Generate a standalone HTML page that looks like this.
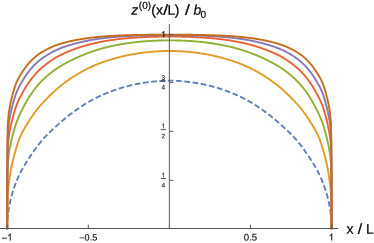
<!DOCTYPE html>
<html><head><meta charset="utf-8"><title>plot</title>
<style>
html,body{margin:0;padding:0;background:#fff;}
body{width:374px;height:243px;overflow:hidden;}
svg{display:block;will-change:transform;}
text{font-family:"Liberation Sans",sans-serif;fill:#000;stroke:#000;stroke-width:0.2px;}
.t{font-size:9.6px;stroke-width:0.1px;}
.f{font-size:6.5px;stroke-width:0.08px;}
.l{font-size:14px;}
.s{font-size:10px;}
</style></head><body>
<svg width="374" height="243" viewBox="0 0 374 243">
<rect width="374" height="243" fill="#fff"/>
<g>
<path d="M7.20 228.30 L7.20 227.91 L7.20 227.54 L7.21 227.15 L7.21 226.78 L7.22 226.37 L7.22 226.00 L7.23 225.62 L7.24 225.21 L7.25 224.79 L7.26 224.44 L7.27 224.08 L7.29 223.71 L7.30 223.33 L7.32 222.93 L7.34 222.53 L7.36 222.12 L7.38 221.70 L7.40 221.27 L7.43 220.83 L7.45 220.49 L7.47 220.15 L7.50 219.81 L7.52 219.46 L7.55 219.11 L7.57 218.75 L7.60 218.38 L7.63 218.02 L7.67 217.64 L7.70 217.27 L7.74 216.89 L7.77 216.50 L7.81 216.11 L7.85 215.72 L7.89 215.32 L7.94 214.92 L7.98 214.52 L8.03 214.11 L8.08 213.70 L8.13 213.28 L8.18 212.86 L8.24 212.44 L8.29 212.01 L8.35 211.58 L8.41 211.14 L8.48 210.70 L8.54 210.26 L8.61 209.81 L8.68 209.36 L8.75 208.91 L8.80 208.61 L8.85 208.30 L8.90 207.99 L8.95 207.69 L9.01 207.38 L9.06 207.06 L9.12 206.75 L9.17 206.44 L9.23 206.12 L9.29 205.80 L9.35 205.48 L9.41 205.16 L9.47 204.84 L9.54 204.52 L9.60 204.19 L9.67 203.87 L9.73 203.54 L9.80 203.21 L9.87 202.88 L9.94 202.55 L10.01 202.21 L10.09 201.88 L10.16 201.54 L10.24 201.20 L10.31 200.86 L10.39 200.52 L10.47 200.18 L10.55 199.84 L10.63 199.49 L10.72 199.15 L10.80 198.80 L10.89 198.45 L10.98 198.10 L11.07 197.75 L11.16 197.40 L11.25 197.04 L11.34 196.69 L11.44 196.33 L11.53 195.98 L11.63 195.62 L11.73 195.26 L11.83 194.90 L11.93 194.54 L12.03 194.17 L12.14 193.81 L12.24 193.45 L12.35 193.08 L12.46 192.71 L12.57 192.34 L12.68 191.97 L12.80 191.60 L12.91 191.23 L13.03 190.86 L13.15 190.49 L13.27 190.11 L13.39 189.74 L13.51 189.36 L13.64 188.98 L13.76 188.60 L13.89 188.22 L14.02 187.84 L14.15 187.46 L14.29 187.08 L14.42 186.69 L14.56 186.31 L14.70 185.93 L14.84 185.54 L14.98 185.15 L15.12 184.76 L15.27 184.38 L15.42 183.99 L15.56 183.60 L15.72 183.20 L15.87 182.81 L16.02 182.42 L16.18 182.03 L16.34 181.63 L16.50 181.24 L16.66 180.84 L16.82 180.45 L16.99 180.05 L17.15 179.65 L17.32 179.25 L17.49 178.85 L17.67 178.45 L17.84 178.05 L18.02 177.65 L18.20 177.25 L18.38 176.85 L18.56 176.45 L18.75 176.05 L18.93 175.64 L19.12 175.24 L19.31 174.83 L19.51 174.43 L19.70 174.02 L19.90 173.62 L20.10 173.21 L20.30 172.81 L20.50 172.41 L20.71 172.00 L20.91 171.60 L21.12 171.20 L21.33 170.79 L21.55 170.39 L21.76 169.99 L21.98 169.59 L22.20 169.19 L22.42 168.79 L22.65 168.39 L22.87 167.99 L23.10 167.59 L23.33 167.18 L23.57 166.78 L23.80 166.38 L24.04 165.98 L24.28 165.58 L24.52 165.18 L24.77 164.77 L25.01 164.37 L25.26 163.96 L25.51 163.56 L25.77 163.15 L26.02 162.74 L26.28 162.34 L26.54 161.93 L26.81 161.51 L27.07 161.10 L27.34 160.69 L27.61 160.27 L27.88 159.86 L28.16 159.44 L28.44 159.02 L28.58 158.80 L28.72 158.59 L28.86 158.38 L29.00 158.17 L29.14 157.95 L29.28 157.74 L29.43 157.53 L29.57 157.31 L29.72 157.09 L29.86 156.88 L30.01 156.66 L30.15 156.44 L30.30 156.22 L30.45 156.01 L30.60 155.79 L30.75 155.56 L30.90 155.34 L31.05 155.12 L31.20 154.90 L31.35 154.67 L31.50 154.45 L31.65 154.22 L31.81 154.00 L31.96 153.77 L32.12 153.54 L32.27 153.31 L32.43 153.09 L32.58 152.86 L32.74 152.63 L32.90 152.40 L33.06 152.17 L33.22 151.94 L33.38 151.71 L33.54 151.47 L33.70 151.24 L33.86 151.01 L34.02 150.78 L34.19 150.55 L34.35 150.32 L34.51 150.08 L34.68 149.85 L34.85 149.62 L35.01 149.38 L35.18 149.15 L35.35 148.92 L35.52 148.68 L35.68 148.45 L35.85 148.22 L36.03 147.98 L36.20 147.75 L36.37 147.52 L36.54 147.28 L36.71 147.05 L36.89 146.81 L37.06 146.58 L37.24 146.35 L37.41 146.11 L37.59 145.88 L37.77 145.64 L37.95 145.41 L38.13 145.18 L38.30 144.94 L38.48 144.71 L38.67 144.48 L38.85 144.24 L39.03 144.01 L39.21 143.78 L39.40 143.54 L39.58 143.31 L39.77 143.08 L39.95 142.85 L40.14 142.62 L40.32 142.38 L40.51 142.15 L40.70 141.92 L40.89 141.69 L41.08 141.46 L41.27 141.23 L41.46 141.00 L41.65 140.77 L41.85 140.54 L42.04 140.31 L42.24 140.09 L42.43 139.86 L42.63 139.63 L42.82 139.40 L43.02 139.18 L43.22 138.95 L43.42 138.73 L43.62 138.50 L43.82 138.28 L44.02 138.06 L44.22 137.84 L44.42 137.61 L44.62 137.39 L44.83 137.17 L45.03 136.95 L45.24 136.73 L45.44 136.51 L45.65 136.30 L45.86 136.08 L46.07 135.86 L46.27 135.64 L46.48 135.42 L46.69 135.21 L46.91 134.99 L47.12 134.78 L47.33 134.56 L47.54 134.34 L47.76 134.13 L47.97 133.91 L48.19 133.70 L48.40 133.49 L48.62 133.27 L48.84 133.06 L49.06 132.84 L49.28 132.63 L49.50 132.42 L49.72 132.20 L49.94 131.99 L50.16 131.78 L50.39 131.56 L50.61 131.35 L50.84 131.14 L51.06 130.93 L51.29 130.71 L51.52 130.50 L51.74 130.29 L51.97 130.07 L52.20 129.86 L52.43 129.65 L52.66 129.43 L52.90 129.22 L53.13 129.01 L53.36 128.79 L53.60 128.58 L53.83 128.36 L54.07 128.15 L54.30 127.93 L54.54 127.72 L54.78 127.50 L55.02 127.29 L55.26 127.07 L55.50 126.85 L55.74 126.64 L55.98 126.42 L56.23 126.20 L56.47 125.98 L56.72 125.77 L56.96 125.55 L57.21 125.33 L57.45 125.11 L57.70 124.88 L57.95 124.66 L58.20 124.44 L58.45 124.22 L58.70 123.99 L58.95 123.77 L59.21 123.55 L59.46 123.32 L59.72 123.09 L59.97 122.87 L60.23 122.64 L60.48 122.41 L60.74 122.18 L61.00 121.96 L61.26 121.73 L61.52 121.50 L61.78 121.27 L62.04 121.05 L62.31 120.82 L62.57 120.59 L62.83 120.36 L63.10 120.14 L63.37 119.91 L63.63 119.68 L63.90 119.45 L64.17 119.23 L64.44 119.00 L64.71 118.78 L64.98 118.55 L65.25 118.32 L65.53 118.10 L65.80 117.87 L66.07 117.65 L66.35 117.42 L66.63 117.20 L66.90 116.97 L67.18 116.75 L67.46 116.52 L67.74 116.30 L68.02 116.07 L68.30 115.85 L68.59 115.63 L68.87 115.40 L69.15 115.18 L69.44 114.96 L69.72 114.74 L70.01 114.52 L70.30 114.29 L70.59 114.07 L70.88 113.85 L71.17 113.63 L71.46 113.41 L71.75 113.20 L72.04 112.98 L72.34 112.76 L72.63 112.54 L72.93 112.32 L73.22 112.11 L73.52 111.89 L73.82 111.67 L74.12 111.46 L74.42 111.24 L74.72 111.03 L75.02 110.82 L75.32 110.60 L75.63 110.39 L75.93 110.18 L76.24 109.97 L76.54 109.75 L76.85 109.54 L77.16 109.33 L77.47 109.11 L77.78 108.90 L78.09 108.68 L78.40 108.47 L78.71 108.25 L79.03 108.04 L79.34 107.82 L79.66 107.61 L79.97 107.39 L80.29 107.18 L80.61 106.96 L80.93 106.74 L81.25 106.53 L81.57 106.31 L81.89 106.10 L82.22 105.88 L82.54 105.67 L82.86 105.46 L83.19 105.24 L83.52 105.03 L83.84 104.82 L84.17 104.61 L84.50 104.40 L84.83 104.19 L85.16 103.98 L85.50 103.77 L85.83 103.56 L86.16 103.36 L86.50 103.15 L86.83 102.95 L87.17 102.75 L87.51 102.55 L87.85 102.35 L88.19 102.15 L88.53 101.95 L88.87 101.75 L89.21 101.56 L89.56 101.36 L89.90 101.17 L90.25 100.97 L90.59 100.78 L90.94 100.59 L91.29 100.40 L91.64 100.21 L91.99 100.02 L92.34 99.83 L92.69 99.64 L93.05 99.45 L93.40 99.26 L93.75 99.08 L94.11 98.89 L94.47 98.71 L94.83 98.52 L95.19 98.34 L95.55 98.16 L95.91 97.98 L96.27 97.79 L96.63 97.61 L97.00 97.43 L97.36 97.26 L97.73 97.08 L98.09 96.90 L98.46 96.72 L98.83 96.55 L99.20 96.37 L99.57 96.20 L99.94 96.03 L100.32 95.85 L100.69 95.68 L101.07 95.51 L101.44 95.34 L101.82 95.17 L102.20 95.00 L102.58 94.84 L102.96 94.67 L103.34 94.50 L103.72 94.34 L104.10 94.17 L104.49 94.01 L104.87 93.85 L105.26 93.68 L105.64 93.52 L106.03 93.36 L106.42 93.20 L106.81 93.04 L107.20 92.88 L107.59 92.73 L107.99 92.57 L108.38 92.41 L108.78 92.26 L109.17 92.10 L109.57 91.95 L109.97 91.80 L110.37 91.64 L110.77 91.49 L111.17 91.34 L111.57 91.19 L111.98 91.04 L112.38 90.89 L112.79 90.74 L113.19 90.60 L113.60 90.45 L114.01 90.31 L114.42 90.16 L114.83 90.02 L115.24 89.87 L115.65 89.73 L116.07 89.59 L116.48 89.45 L116.90 89.31 L117.32 89.17 L117.73 89.03 L118.15 88.89 L118.57 88.76 L119.00 88.62 L119.42 88.49 L119.84 88.35 L120.27 88.22 L120.69 88.09 L121.12 87.96 L121.55 87.83 L121.97 87.70 L122.40 87.57 L122.84 87.44 L123.27 87.32 L123.70 87.19 L124.13 87.07 L124.57 86.95 L125.01 86.82 L125.44 86.70 L125.88 86.58 L126.32 86.46 L126.76 86.35 L127.20 86.23 L127.65 86.11 L128.09 86.00 L128.54 85.89 L128.98 85.77 L129.43 85.66 L129.88 85.55 L130.33 85.44 L130.78 85.33 L131.23 85.23 L131.68 85.12 L132.14 85.02 L132.59 84.91 L133.05 84.81 L133.50 84.71 L133.96 84.61 L134.42 84.51 L134.88 84.42 L135.34 84.32 L135.81 84.23 L136.27 84.13 L136.73 84.04 L137.20 83.95 L137.67 83.86 L138.13 83.77 L138.60 83.69 L139.07 83.60 L139.55 83.51 L140.02 83.43 L140.49 83.35 L140.97 83.26 L141.44 83.18 L141.92 83.10 L142.40 83.02 L142.88 82.95 L143.36 82.87 L143.84 82.79 L144.32 82.72 L144.81 82.65 L145.29 82.57 L145.78 82.50 L146.27 82.43 L146.75 82.36 L147.24 82.30 L147.74 82.23 L148.23 82.16 L148.72 82.10 L149.21 82.04 L149.71 81.97 L150.21 81.91 L150.70 81.85 L151.20 81.80 L151.70 81.74 L152.20 81.68 L152.71 81.63 L153.21 81.58 L153.71 81.52 L154.22 81.47 L154.73 81.42 L155.24 81.38 L155.74 81.33 L156.26 81.28 L156.77 81.24 L157.28 81.19 L157.79 81.15 L158.31 81.11 L158.83 81.07 L159.34 81.04 L159.86 81.00 L160.38 80.96 L160.90 80.93 L161.42 80.90 L161.95 80.87 L162.47 80.84 L163.00 80.81 L163.53 80.78 L164.05 80.76 L164.58 80.73 L165.11 80.71 L165.64 80.69 L166.18 80.67 L166.71 80.65 L167.25 80.63 L167.78 80.62 L168.32 80.60 L168.86 80.59 L169.40 80.58 L169.94 80.59 L170.48 80.60 L171.02 80.62 L171.55 80.63 L172.09 80.65 L172.62 80.67 L173.16 80.69 L173.69 80.71 L174.22 80.73 L174.75 80.76 L175.27 80.78 L175.80 80.81 L176.33 80.84 L176.85 80.87 L177.38 80.90 L177.90 80.93 L178.42 80.96 L178.94 81.00 L179.46 81.04 L179.97 81.07 L180.49 81.11 L181.01 81.15 L181.52 81.19 L182.03 81.24 L182.54 81.28 L183.06 81.33 L183.56 81.38 L184.07 81.42 L184.58 81.47 L185.09 81.52 L185.59 81.58 L186.09 81.63 L186.60 81.68 L187.10 81.74 L187.60 81.80 L188.10 81.85 L188.59 81.91 L189.09 81.97 L189.59 82.04 L190.08 82.10 L190.57 82.16 L191.06 82.23 L191.56 82.30 L192.05 82.36 L192.53 82.43 L193.02 82.50 L193.51 82.57 L193.99 82.65 L194.48 82.72 L194.96 82.79 L195.44 82.87 L195.92 82.95 L196.40 83.02 L196.88 83.10 L197.36 83.18 L197.83 83.26 L198.31 83.35 L198.78 83.43 L199.25 83.51 L199.73 83.60 L200.20 83.69 L200.67 83.77 L201.13 83.86 L201.60 83.95 L202.07 84.04 L202.53 84.13 L202.99 84.23 L203.46 84.32 L203.92 84.42 L204.38 84.51 L204.84 84.61 L205.30 84.71 L205.75 84.81 L206.21 84.91 L206.66 85.02 L207.12 85.12 L207.57 85.23 L208.02 85.33 L208.47 85.44 L208.92 85.55 L209.37 85.66 L209.82 85.77 L210.26 85.89 L210.71 86.00 L211.15 86.11 L211.60 86.23 L212.04 86.35 L212.48 86.46 L212.92 86.58 L213.36 86.70 L213.79 86.82 L214.23 86.95 L214.67 87.07 L215.10 87.19 L215.53 87.32 L215.96 87.44 L216.40 87.57 L216.83 87.70 L217.25 87.83 L217.68 87.96 L218.11 88.09 L218.53 88.22 L218.96 88.35 L219.38 88.49 L219.80 88.62 L220.23 88.76 L220.65 88.89 L221.07 89.03 L221.48 89.17 L221.90 89.31 L222.32 89.45 L222.73 89.59 L223.15 89.73 L223.56 89.87 L223.97 90.02 L224.38 90.16 L224.79 90.31 L225.20 90.45 L225.61 90.60 L226.01 90.74 L226.42 90.89 L226.82 91.04 L227.23 91.19 L227.63 91.34 L228.03 91.49 L228.43 91.64 L228.83 91.80 L229.23 91.95 L229.63 92.10 L230.02 92.26 L230.42 92.41 L230.81 92.57 L231.21 92.73 L231.60 92.88 L231.99 93.04 L232.38 93.20 L232.77 93.36 L233.16 93.52 L233.54 93.68 L233.93 93.85 L234.31 94.01 L234.70 94.17 L235.08 94.34 L235.46 94.50 L235.84 94.67 L236.22 94.84 L236.60 95.00 L236.98 95.17 L237.36 95.34 L237.73 95.51 L238.11 95.68 L238.48 95.85 L238.86 96.03 L239.23 96.20 L239.60 96.37 L239.97 96.55 L240.34 96.72 L240.71 96.90 L241.07 97.08 L241.44 97.26 L241.80 97.43 L242.17 97.61 L242.53 97.79 L242.89 97.98 L243.25 98.16 L243.61 98.34 L243.97 98.52 L244.33 98.71 L244.69 98.89 L245.05 99.08 L245.40 99.26 L245.75 99.45 L246.11 99.64 L246.46 99.83 L246.81 100.02 L247.16 100.21 L247.51 100.40 L247.86 100.59 L248.21 100.78 L248.55 100.97 L248.90 101.17 L249.24 101.36 L249.59 101.56 L249.93 101.75 L250.27 101.95 L250.61 102.15 L250.95 102.35 L251.29 102.55 L251.63 102.75 L251.97 102.95 L252.30 103.15 L252.64 103.36 L252.97 103.56 L253.30 103.77 L253.64 103.98 L253.97 104.19 L254.30 104.40 L254.63 104.61 L254.96 104.82 L255.28 105.03 L255.61 105.24 L255.94 105.46 L256.26 105.67 L256.58 105.88 L256.91 106.10 L257.23 106.31 L257.55 106.53 L257.87 106.74 L258.19 106.96 L258.51 107.18 L258.83 107.39 L259.14 107.61 L259.46 107.82 L259.77 108.04 L260.09 108.25 L260.40 108.47 L260.71 108.68 L261.02 108.90 L261.33 109.11 L261.64 109.33 L261.95 109.54 L262.26 109.75 L262.56 109.97 L262.87 110.18 L263.17 110.39 L263.48 110.60 L263.78 110.82 L264.08 111.03 L264.38 111.24 L264.68 111.46 L264.98 111.67 L265.28 111.89 L265.58 112.11 L265.87 112.32 L266.17 112.54 L266.46 112.76 L266.76 112.98 L267.05 113.20 L267.34 113.41 L267.63 113.63 L267.92 113.85 L268.21 114.07 L268.50 114.29 L268.79 114.52 L269.08 114.74 L269.36 114.96 L269.65 115.18 L269.93 115.40 L270.21 115.63 L270.50 115.85 L270.78 116.07 L271.06 116.30 L271.34 116.52 L271.62 116.75 L271.90 116.97 L272.17 117.20 L272.45 117.42 L272.73 117.65 L273.00 117.87 L273.27 118.10 L273.55 118.32 L273.82 118.55 L274.09 118.78 L274.36 119.00 L274.63 119.23 L274.90 119.45 L275.17 119.68 L275.43 119.91 L275.70 120.14 L275.97 120.36 L276.23 120.59 L276.49 120.82 L276.76 121.05 L277.02 121.27 L277.28 121.50 L277.54 121.73 L277.80 121.96 L278.06 122.18 L278.32 122.41 L278.57 122.64 L278.83 122.87 L279.08 123.09 L279.34 123.32 L279.59 123.55 L279.85 123.77 L280.10 123.99 L280.35 124.22 L280.60 124.44 L280.85 124.66 L281.10 124.88 L281.35 125.11 L281.59 125.33 L281.84 125.55 L282.08 125.77 L282.33 125.98 L282.57 126.20 L282.82 126.42 L283.06 126.64 L283.30 126.85 L283.54 127.07 L283.78 127.29 L284.02 127.50 L284.26 127.72 L284.50 127.93 L284.73 128.15 L284.97 128.36 L285.20 128.58 L285.44 128.79 L285.67 129.01 L285.90 129.22 L286.14 129.43 L286.37 129.65 L286.60 129.86 L286.83 130.07 L287.06 130.29 L287.28 130.50 L287.51 130.71 L287.74 130.93 L287.96 131.14 L288.19 131.35 L288.41 131.56 L288.64 131.78 L288.86 131.99 L289.08 132.20 L289.30 132.42 L289.52 132.63 L289.74 132.84 L289.96 133.06 L290.18 133.27 L290.40 133.49 L290.61 133.70 L290.83 133.91 L291.04 134.13 L291.26 134.34 L291.47 134.56 L291.68 134.78 L291.89 134.99 L292.11 135.21 L292.32 135.42 L292.53 135.64 L292.73 135.86 L292.94 136.08 L293.15 136.30 L293.36 136.51 L293.56 136.73 L293.77 136.95 L293.97 137.17 L294.18 137.39 L294.38 137.61 L294.58 137.84 L294.78 138.06 L294.98 138.28 L295.18 138.50 L295.38 138.73 L295.58 138.95 L295.78 139.18 L295.98 139.40 L296.17 139.63 L296.37 139.86 L296.56 140.09 L296.76 140.31 L296.95 140.54 L297.15 140.77 L297.34 141.00 L297.53 141.23 L297.72 141.46 L297.91 141.69 L298.10 141.92 L298.29 142.15 L298.48 142.38 L298.66 142.62 L298.85 142.85 L299.03 143.08 L299.22 143.31 L299.40 143.54 L299.59 143.78 L299.77 144.01 L299.95 144.24 L300.13 144.48 L300.32 144.71 L300.50 144.94 L300.67 145.18 L300.85 145.41 L301.03 145.64 L301.21 145.88 L301.39 146.11 L301.56 146.35 L301.74 146.58 L301.91 146.81 L302.09 147.05 L302.26 147.28 L302.43 147.52 L302.60 147.75 L302.77 147.98 L302.95 148.22 L303.12 148.45 L303.28 148.68 L303.45 148.92 L303.62 149.15 L303.79 149.38 L303.95 149.62 L304.12 149.85 L304.29 150.08 L304.45 150.32 L304.61 150.55 L304.78 150.78 L304.94 151.01 L305.10 151.24 L305.26 151.47 L305.42 151.71 L305.58 151.94 L305.74 152.17 L305.90 152.40 L306.06 152.63 L306.22 152.86 L306.37 153.09 L306.53 153.31 L306.68 153.54 L306.84 153.77 L306.99 154.00 L307.15 154.22 L307.30 154.45 L307.45 154.67 L307.60 154.90 L307.75 155.12 L307.90 155.34 L308.05 155.56 L308.20 155.79 L308.35 156.01 L308.50 156.22 L308.65 156.44 L308.79 156.66 L308.94 156.88 L309.08 157.09 L309.23 157.31 L309.37 157.53 L309.52 157.74 L309.66 157.95 L309.80 158.17 L309.94 158.38 L310.08 158.59 L310.22 158.80 L310.36 159.02 L310.64 159.44 L310.92 159.86 L311.19 160.27 L311.46 160.69 L311.73 161.10 L311.99 161.51 L312.26 161.93 L312.52 162.34 L312.78 162.74 L313.03 163.15 L313.29 163.56 L313.54 163.96 L313.79 164.37 L314.03 164.77 L314.28 165.18 L314.52 165.58 L314.76 165.98 L315.00 166.38 L315.23 166.78 L315.47 167.18 L315.70 167.59 L315.93 167.99 L316.15 168.39 L316.38 168.79 L316.60 169.19 L316.82 169.59 L317.04 169.99 L317.25 170.39 L317.47 170.79 L317.68 171.20 L317.89 171.60 L318.09 172.00 L318.30 172.41 L318.50 172.81 L318.70 173.21 L318.90 173.62 L319.10 174.02 L319.29 174.43 L319.49 174.83 L319.68 175.24 L319.87 175.64 L320.05 176.05 L320.24 176.45 L320.42 176.85 L320.60 177.25 L320.78 177.65 L320.96 178.05 L321.13 178.45 L321.31 178.85 L321.48 179.25 L321.65 179.65 L321.81 180.05 L321.98 180.45 L322.14 180.84 L322.30 181.24 L322.46 181.63 L322.62 182.03 L322.78 182.42 L322.93 182.81 L323.08 183.20 L323.24 183.60 L323.38 183.99 L323.53 184.38 L323.68 184.76 L323.82 185.15 L323.96 185.54 L324.10 185.93 L324.24 186.31 L324.38 186.69 L324.51 187.08 L324.65 187.46 L324.78 187.84 L324.91 188.22 L325.04 188.60 L325.16 188.98 L325.29 189.36 L325.41 189.74 L325.53 190.11 L325.65 190.49 L325.77 190.86 L325.89 191.23 L326.00 191.60 L326.12 191.97 L326.23 192.34 L326.34 192.71 L326.45 193.08 L326.56 193.45 L326.66 193.81 L326.77 194.17 L326.87 194.54 L326.97 194.90 L327.07 195.26 L327.17 195.62 L327.27 195.98 L327.36 196.33 L327.46 196.69 L327.55 197.04 L327.64 197.40 L327.73 197.75 L327.82 198.10 L327.91 198.45 L328.00 198.80 L328.08 199.15 L328.17 199.49 L328.25 199.84 L328.33 200.18 L328.41 200.52 L328.49 200.86 L328.56 201.20 L328.64 201.54 L328.71 201.88 L328.79 202.21 L328.86 202.55 L328.93 202.88 L329.00 203.21 L329.07 203.54 L329.13 203.87 L329.20 204.19 L329.26 204.52 L329.33 204.84 L329.39 205.16 L329.45 205.48 L329.51 205.80 L329.57 206.12 L329.63 206.44 L329.68 206.75 L329.74 207.06 L329.79 207.38 L329.85 207.69 L329.90 207.99 L329.95 208.30 L330.00 208.61 L330.05 208.91 L330.10 209.21 L330.17 209.66 L330.24 210.11 L330.30 210.56 L330.37 211.00 L330.43 211.43 L330.49 211.86 L330.55 212.29 L330.60 212.72 L330.65 213.14 L330.71 213.56 L330.76 213.97 L330.80 214.38 L330.85 214.79 L330.89 215.19 L330.94 215.59 L330.98 215.98 L331.02 216.37 L331.05 216.76 L331.09 217.14 L331.12 217.52 L331.15 217.89 L331.19 218.26 L331.22 218.63 L331.24 218.99 L331.27 219.34 L331.30 219.69 L331.32 220.04 L331.34 220.38 L331.36 220.72 L331.38 221.05 L331.41 221.48 L331.43 221.91 L331.45 222.33 L331.47 222.73 L331.49 223.13 L331.51 223.52 L331.52 223.89 L331.53 224.26 L331.54 224.62 L331.55 224.96 L331.56 225.38 L331.57 225.77 L331.58 226.15 L331.59 226.51 L331.59 226.90 L331.60 227.27 L331.60 227.64 L331.60 227.99 L331.60 228.30" fill="none" stroke="#5E81B5" stroke-width="1.9" stroke-linejoin="round" stroke-dasharray="5.7 2.609" stroke-dashoffset="0.879"/>
<path d="M7.20 228.30 L7.20 227.88 L7.20 227.47 L7.20 227.11 L7.20 226.70 L7.20 226.26 L7.20 225.79 L7.20 225.28 L7.20 224.92 L7.21 224.55 L7.21 224.17 L7.21 223.78 L7.21 223.37 L7.21 222.95 L7.21 222.52 L7.22 222.08 L7.22 221.63 L7.22 221.16 L7.22 220.69 L7.23 220.20 L7.23 219.70 L7.24 219.19 L7.24 218.68 L7.24 218.15 L7.25 217.61 L7.25 217.06 L7.26 216.50 L7.26 215.93 L7.27 215.35 L7.28 214.77 L7.28 214.17 L7.29 213.56 L7.30 212.95 L7.31 212.33 L7.31 211.69 L7.32 211.06 L7.33 210.41 L7.34 209.76 L7.35 209.10 L7.36 208.44 L7.37 207.77 L7.38 207.10 L7.40 206.43 L7.41 205.76 L7.42 205.08 L7.44 204.41 L7.45 203.74 L7.46 203.08 L7.48 202.42 L7.50 201.77 L7.51 201.13 L7.53 200.50 L7.55 199.89 L7.57 199.30 L7.58 198.74 L7.60 198.19 L7.62 197.68 L7.65 197.21 L7.67 196.77 L7.69 196.39 L7.71 196.02 L7.74 195.64 L7.76 195.27 L7.78 194.89 L7.81 194.50 L7.84 194.12 L7.86 193.72 L7.89 193.33 L7.92 192.94 L7.95 192.54 L7.98 192.14 L8.01 191.73 L8.04 191.33 L8.08 190.92 L8.11 190.51 L8.15 190.10 L8.18 189.69 L8.22 189.28 L8.25 188.86 L8.29 188.45 L8.33 188.03 L8.37 187.62 L8.41 187.20 L8.45 186.78 L8.50 186.37 L8.54 185.95 L8.59 185.53 L8.63 185.11 L8.68 184.69 L8.73 184.28 L8.77 183.86 L8.82 183.44 L8.88 183.02 L8.93 182.60 L8.98 182.18 L9.03 181.77 L9.09 181.35 L9.15 180.93 L9.20 180.51 L9.26 180.09 L9.32 179.67 L9.38 179.25 L9.44 178.82 L9.51 178.40 L9.57 177.97 L9.63 177.55 L9.70 177.12 L9.77 176.69 L9.84 176.25 L9.91 175.82 L9.98 175.38 L10.05 174.93 L10.12 174.48 L10.20 174.03 L10.28 173.57 L10.35 173.11 L10.43 172.65 L10.51 172.19 L10.59 171.72 L10.68 171.25 L10.76 170.78 L10.85 170.31 L10.93 169.84 L11.02 169.37 L11.11 168.89 L11.20 168.41 L11.29 167.93 L11.39 167.45 L11.48 166.97 L11.58 166.49 L11.68 166.00 L11.78 165.52 L11.88 165.03 L11.98 164.54 L12.08 164.05 L12.19 163.56 L12.30 163.07 L12.41 162.58 L12.51 162.08 L12.63 161.59 L12.74 161.09 L12.85 160.60 L12.97 160.10 L13.09 159.60 L13.21 159.10 L13.33 158.60 L13.45 158.10 L13.58 157.60 L13.70 157.10 L13.83 156.60 L13.96 156.09 L14.09 155.59 L14.22 155.08 L14.35 154.58 L14.49 154.07 L14.63 153.57 L14.77 153.06 L14.91 152.55 L15.05 152.04 L15.20 151.53 L15.34 151.02 L15.49 150.51 L15.64 150.00 L15.79 149.49 L15.95 148.98 L16.10 148.47 L16.26 147.95 L16.42 147.44 L16.58 146.93 L16.74 146.41 L16.90 145.90 L17.07 145.38 L17.24 144.86 L17.41 144.34 L17.58 143.81 L17.75 143.29 L17.93 142.76 L18.02 142.50 L18.11 142.24 L18.29 141.72 L18.47 141.21 L18.65 140.69 L18.84 140.19 L19.03 139.69 L19.22 139.20 L19.41 138.71 L19.60 138.24 L19.80 137.76 L20.00 137.29 L20.20 136.82 L20.40 136.36 L20.60 135.90 L20.81 135.44 L21.02 134.99 L21.23 134.54 L21.44 134.09 L21.65 133.65 L21.87 133.20 L22.09 132.76 L22.31 132.33 L22.53 131.89 L22.76 131.46 L22.99 131.03 L23.22 130.60 L23.45 130.18 L23.68 129.75 L23.92 129.33 L24.16 128.90 L24.40 128.48 L24.64 128.06 L24.89 127.64 L25.14 127.22 L25.39 126.80 L25.64 126.38 L25.90 125.97 L26.15 125.55 L26.41 125.13 L26.67 124.70 L26.94 124.28 L27.21 123.86 L27.48 123.43 L27.75 123.01 L27.88 122.79 L28.02 122.58 L28.16 122.36 L28.30 122.15 L28.44 121.93 L28.58 121.71 L28.72 121.49 L28.86 121.27 L29.00 121.05 L29.14 120.83 L29.28 120.61 L29.43 120.39 L29.57 120.17 L29.72 119.94 L29.86 119.72 L30.01 119.49 L30.15 119.26 L30.30 119.04 L30.45 118.81 L30.60 118.59 L30.75 118.36 L30.90 118.13 L31.05 117.91 L31.20 117.68 L31.35 117.45 L31.50 117.23 L31.65 117.00 L31.81 116.77 L31.96 116.54 L32.12 116.32 L32.27 116.09 L32.43 115.86 L32.58 115.63 L32.74 115.41 L32.90 115.18 L33.06 114.95 L33.22 114.73 L33.38 114.50 L33.54 114.27 L33.70 114.04 L33.86 113.82 L34.02 113.59 L34.19 113.36 L34.35 113.13 L34.51 112.91 L34.68 112.68 L34.85 112.45 L35.01 112.23 L35.18 112.00 L35.35 111.77 L35.52 111.55 L35.68 111.32 L35.85 111.10 L36.03 110.87 L36.20 110.64 L36.37 110.42 L36.54 110.19 L36.71 109.97 L36.89 109.74 L37.06 109.52 L37.24 109.30 L37.41 109.07 L37.59 108.85 L37.77 108.63 L37.95 108.40 L38.13 108.18 L38.30 107.96 L38.48 107.73 L38.67 107.51 L38.85 107.29 L39.03 107.07 L39.21 106.85 L39.40 106.63 L39.58 106.41 L39.77 106.19 L39.95 105.97 L40.14 105.75 L40.32 105.54 L40.51 105.32 L40.70 105.11 L40.89 104.89 L41.08 104.68 L41.27 104.46 L41.46 104.25 L41.65 104.04 L41.85 103.83 L42.04 103.61 L42.24 103.40 L42.43 103.19 L42.63 102.98 L42.82 102.77 L43.02 102.56 L43.22 102.35 L43.42 102.14 L43.62 101.92 L43.82 101.71 L44.02 101.50 L44.22 101.29 L44.42 101.08 L44.62 100.86 L44.83 100.65 L45.03 100.44 L45.24 100.22 L45.44 100.01 L45.65 99.79 L45.86 99.58 L46.07 99.36 L46.27 99.14 L46.48 98.92 L46.69 98.70 L46.91 98.49 L47.12 98.27 L47.33 98.05 L47.54 97.83 L47.76 97.61 L47.97 97.40 L48.19 97.18 L48.40 96.96 L48.62 96.74 L48.84 96.52 L49.06 96.31 L49.28 96.09 L49.50 95.87 L49.72 95.65 L49.94 95.44 L50.16 95.22 L50.39 95.00 L50.61 94.79 L50.84 94.57 L51.06 94.35 L51.29 94.13 L51.52 93.92 L51.74 93.70 L51.97 93.48 L52.20 93.27 L52.43 93.05 L52.66 92.83 L52.90 92.62 L53.13 92.40 L53.36 92.18 L53.60 91.97 L53.83 91.75 L54.07 91.54 L54.30 91.32 L54.54 91.10 L54.78 90.89 L55.02 90.67 L55.26 90.46 L55.50 90.24 L55.74 90.03 L55.98 89.81 L56.23 89.60 L56.47 89.38 L56.72 89.17 L56.96 88.95 L57.21 88.74 L57.45 88.53 L57.70 88.31 L57.95 88.10 L58.20 87.89 L58.45 87.68 L58.70 87.47 L58.95 87.26 L59.21 87.05 L59.46 86.84 L59.72 86.63 L59.97 86.42 L60.23 86.21 L60.48 86.00 L60.74 85.79 L61.00 85.59 L61.26 85.38 L61.52 85.17 L61.78 84.96 L62.04 84.76 L62.31 84.55 L62.57 84.35 L62.83 84.14 L63.10 83.94 L63.37 83.73 L63.63 83.53 L63.90 83.32 L64.17 83.12 L64.44 82.92 L64.71 82.71 L64.98 82.51 L65.25 82.31 L65.53 82.11 L65.80 81.90 L66.07 81.70 L66.35 81.50 L66.63 81.30 L66.90 81.10 L67.18 80.90 L67.46 80.70 L67.74 80.50 L68.02 80.30 L68.30 80.10 L68.59 79.90 L68.87 79.71 L69.15 79.51 L69.44 79.31 L69.72 79.11 L70.01 78.92 L70.30 78.72 L70.59 78.52 L70.88 78.33 L71.17 78.13 L71.46 77.93 L71.75 77.74 L72.04 77.54 L72.34 77.35 L72.63 77.15 L72.93 76.96 L73.22 76.77 L73.52 76.57 L73.82 76.38 L74.12 76.19 L74.42 76.00 L74.72 75.81 L75.02 75.62 L75.32 75.43 L75.63 75.24 L75.93 75.06 L76.24 74.87 L76.54 74.68 L76.85 74.50 L77.16 74.31 L77.47 74.13 L77.78 73.94 L78.09 73.76 L78.40 73.58 L78.71 73.39 L79.03 73.21 L79.34 73.03 L79.66 72.85 L79.97 72.67 L80.29 72.49 L80.61 72.31 L80.93 72.13 L81.25 71.95 L81.57 71.78 L81.89 71.60 L82.22 71.42 L82.54 71.25 L82.86 71.07 L83.19 70.90 L83.52 70.72 L83.84 70.55 L84.17 70.37 L84.50 70.20 L84.83 70.03 L85.16 69.86 L85.50 69.69 L85.83 69.51 L86.16 69.34 L86.50 69.18 L86.83 69.01 L87.17 68.84 L87.51 68.67 L87.85 68.50 L88.19 68.33 L88.53 68.17 L88.87 68.00 L89.21 67.84 L89.56 67.67 L89.90 67.51 L90.25 67.34 L90.59 67.18 L90.94 67.02 L91.29 66.86 L91.64 66.70 L91.99 66.54 L92.34 66.38 L92.69 66.22 L93.05 66.07 L93.40 65.91 L93.75 65.76 L94.11 65.60 L94.47 65.45 L94.83 65.29 L95.19 65.14 L95.55 64.99 L95.91 64.84 L96.27 64.69 L96.63 64.54 L97.00 64.39 L97.36 64.24 L97.73 64.10 L98.09 63.95 L98.46 63.80 L98.83 63.66 L99.20 63.51 L99.57 63.37 L99.94 63.23 L100.32 63.09 L100.69 62.95 L101.07 62.81 L101.44 62.67 L101.82 62.53 L102.20 62.39 L102.58 62.25 L102.96 62.12 L103.34 61.98 L103.72 61.85 L104.10 61.71 L104.49 61.58 L104.87 61.45 L105.26 61.32 L105.64 61.19 L106.03 61.06 L106.42 60.93 L106.81 60.80 L107.20 60.67 L107.59 60.54 L107.99 60.42 L108.38 60.29 L108.78 60.17 L109.17 60.04 L109.57 59.92 L109.97 59.80 L110.37 59.68 L110.77 59.56 L111.17 59.44 L111.57 59.32 L111.98 59.20 L112.38 59.08 L112.79 58.96 L113.19 58.84 L113.60 58.72 L114.01 58.60 L114.42 58.49 L114.83 58.37 L115.24 58.26 L115.65 58.14 L116.07 58.03 L116.48 57.92 L116.90 57.80 L117.32 57.69 L117.73 57.58 L118.15 57.47 L118.57 57.36 L119.00 57.25 L119.42 57.14 L119.84 57.03 L120.27 56.93 L120.69 56.82 L121.12 56.72 L121.55 56.61 L121.97 56.51 L122.40 56.40 L122.84 56.30 L123.27 56.20 L123.70 56.10 L124.13 56.00 L124.57 55.90 L125.01 55.80 L125.44 55.70 L125.88 55.61 L126.32 55.51 L126.76 55.42 L127.20 55.32 L127.65 55.23 L128.09 55.14 L128.54 55.05 L128.98 54.96 L129.43 54.87 L129.88 54.78 L130.33 54.69 L130.78 54.60 L131.23 54.52 L131.68 54.43 L132.14 54.35 L132.59 54.27 L133.05 54.18 L133.50 54.10 L133.96 54.02 L134.42 53.94 L134.88 53.87 L135.34 53.79 L135.81 53.71 L136.27 53.64 L136.73 53.57 L137.20 53.49 L137.67 53.42 L138.13 53.35 L138.60 53.28 L139.07 53.21 L139.55 53.15 L140.02 53.08 L140.49 53.01 L140.97 52.95 L141.44 52.88 L141.92 52.82 L142.40 52.76 L142.88 52.70 L143.36 52.64 L143.84 52.58 L144.32 52.52 L144.81 52.46 L145.29 52.41 L145.78 52.35 L146.27 52.30 L146.75 52.24 L147.24 52.19 L147.74 52.14 L148.23 52.09 L148.72 52.04 L149.21 51.99 L149.71 51.94 L150.21 51.90 L150.70 51.85 L151.20 51.81 L151.70 51.76 L152.20 51.72 L152.71 51.68 L153.21 51.64 L153.71 51.60 L154.22 51.56 L154.73 51.52 L155.24 51.49 L155.74 51.45 L156.26 51.42 L156.77 51.39 L157.28 51.35 L157.79 51.32 L158.31 51.29 L158.83 51.26 L159.34 51.23 L159.86 51.21 L160.38 51.18 L160.90 51.16 L161.42 51.13 L161.95 51.11 L162.47 51.09 L163.00 51.07 L163.53 51.05 L164.05 51.03 L164.58 51.01 L165.11 51.00 L165.64 50.98 L166.18 50.97 L166.71 50.96 L167.25 50.95 L167.78 50.94 L168.32 50.93 L168.86 50.92 L169.40 50.91 L169.94 50.92 L170.48 50.93 L171.02 50.94 L171.55 50.95 L172.09 50.96 L172.62 50.97 L173.16 50.98 L173.69 51.00 L174.22 51.01 L174.75 51.03 L175.27 51.05 L175.80 51.07 L176.33 51.09 L176.85 51.11 L177.38 51.13 L177.90 51.16 L178.42 51.18 L178.94 51.21 L179.46 51.23 L179.97 51.26 L180.49 51.29 L181.01 51.32 L181.52 51.35 L182.03 51.39 L182.54 51.42 L183.06 51.45 L183.56 51.49 L184.07 51.52 L184.58 51.56 L185.09 51.60 L185.59 51.64 L186.09 51.68 L186.60 51.72 L187.10 51.76 L187.60 51.81 L188.10 51.85 L188.59 51.90 L189.09 51.94 L189.59 51.99 L190.08 52.04 L190.57 52.09 L191.06 52.14 L191.56 52.19 L192.05 52.24 L192.53 52.30 L193.02 52.35 L193.51 52.41 L193.99 52.46 L194.48 52.52 L194.96 52.58 L195.44 52.64 L195.92 52.70 L196.40 52.76 L196.88 52.82 L197.36 52.88 L197.83 52.95 L198.31 53.01 L198.78 53.08 L199.25 53.15 L199.73 53.21 L200.20 53.28 L200.67 53.35 L201.13 53.42 L201.60 53.49 L202.07 53.57 L202.53 53.64 L202.99 53.71 L203.46 53.79 L203.92 53.87 L204.38 53.94 L204.84 54.02 L205.30 54.10 L205.75 54.18 L206.21 54.27 L206.66 54.35 L207.12 54.43 L207.57 54.52 L208.02 54.60 L208.47 54.69 L208.92 54.78 L209.37 54.87 L209.82 54.96 L210.26 55.05 L210.71 55.14 L211.15 55.23 L211.60 55.32 L212.04 55.42 L212.48 55.51 L212.92 55.61 L213.36 55.70 L213.79 55.80 L214.23 55.90 L214.67 56.00 L215.10 56.10 L215.53 56.20 L215.96 56.30 L216.40 56.40 L216.83 56.51 L217.25 56.61 L217.68 56.72 L218.11 56.82 L218.53 56.93 L218.96 57.03 L219.38 57.14 L219.80 57.25 L220.23 57.36 L220.65 57.47 L221.07 57.58 L221.48 57.69 L221.90 57.80 L222.32 57.92 L222.73 58.03 L223.15 58.14 L223.56 58.26 L223.97 58.37 L224.38 58.49 L224.79 58.60 L225.20 58.72 L225.61 58.84 L226.01 58.96 L226.42 59.08 L226.82 59.20 L227.23 59.32 L227.63 59.44 L228.03 59.56 L228.43 59.68 L228.83 59.80 L229.23 59.92 L229.63 60.04 L230.02 60.17 L230.42 60.29 L230.81 60.42 L231.21 60.54 L231.60 60.67 L231.99 60.80 L232.38 60.93 L232.77 61.06 L233.16 61.19 L233.54 61.32 L233.93 61.45 L234.31 61.58 L234.70 61.71 L235.08 61.85 L235.46 61.98 L235.84 62.12 L236.22 62.25 L236.60 62.39 L236.98 62.53 L237.36 62.67 L237.73 62.81 L238.11 62.95 L238.48 63.09 L238.86 63.23 L239.23 63.37 L239.60 63.51 L239.97 63.66 L240.34 63.80 L240.71 63.95 L241.07 64.10 L241.44 64.24 L241.80 64.39 L242.17 64.54 L242.53 64.69 L242.89 64.84 L243.25 64.99 L243.61 65.14 L243.97 65.29 L244.33 65.45 L244.69 65.60 L245.05 65.76 L245.40 65.91 L245.75 66.07 L246.11 66.22 L246.46 66.38 L246.81 66.54 L247.16 66.70 L247.51 66.86 L247.86 67.02 L248.21 67.18 L248.55 67.34 L248.90 67.51 L249.24 67.67 L249.59 67.84 L249.93 68.00 L250.27 68.17 L250.61 68.33 L250.95 68.50 L251.29 68.67 L251.63 68.84 L251.97 69.01 L252.30 69.18 L252.64 69.34 L252.97 69.51 L253.30 69.69 L253.64 69.86 L253.97 70.03 L254.30 70.20 L254.63 70.37 L254.96 70.55 L255.28 70.72 L255.61 70.90 L255.94 71.07 L256.26 71.25 L256.58 71.42 L256.91 71.60 L257.23 71.78 L257.55 71.95 L257.87 72.13 L258.19 72.31 L258.51 72.49 L258.83 72.67 L259.14 72.85 L259.46 73.03 L259.77 73.21 L260.09 73.39 L260.40 73.58 L260.71 73.76 L261.02 73.94 L261.33 74.13 L261.64 74.31 L261.95 74.50 L262.26 74.68 L262.56 74.87 L262.87 75.06 L263.17 75.24 L263.48 75.43 L263.78 75.62 L264.08 75.81 L264.38 76.00 L264.68 76.19 L264.98 76.38 L265.28 76.57 L265.58 76.77 L265.87 76.96 L266.17 77.15 L266.46 77.35 L266.76 77.54 L267.05 77.74 L267.34 77.93 L267.63 78.13 L267.92 78.33 L268.21 78.52 L268.50 78.72 L268.79 78.92 L269.08 79.11 L269.36 79.31 L269.65 79.51 L269.93 79.71 L270.21 79.90 L270.50 80.10 L270.78 80.30 L271.06 80.50 L271.34 80.70 L271.62 80.90 L271.90 81.10 L272.17 81.30 L272.45 81.50 L272.73 81.70 L273.00 81.90 L273.27 82.11 L273.55 82.31 L273.82 82.51 L274.09 82.71 L274.36 82.92 L274.63 83.12 L274.90 83.32 L275.17 83.53 L275.43 83.73 L275.70 83.94 L275.97 84.14 L276.23 84.35 L276.49 84.55 L276.76 84.76 L277.02 84.96 L277.28 85.17 L277.54 85.38 L277.80 85.59 L278.06 85.79 L278.32 86.00 L278.57 86.21 L278.83 86.42 L279.08 86.63 L279.34 86.84 L279.59 87.05 L279.85 87.26 L280.10 87.47 L280.35 87.68 L280.60 87.89 L280.85 88.10 L281.10 88.31 L281.35 88.53 L281.59 88.74 L281.84 88.95 L282.08 89.17 L282.33 89.38 L282.57 89.60 L282.82 89.81 L283.06 90.03 L283.30 90.24 L283.54 90.46 L283.78 90.67 L284.02 90.89 L284.26 91.10 L284.50 91.32 L284.73 91.54 L284.97 91.75 L285.20 91.97 L285.44 92.18 L285.67 92.40 L285.90 92.62 L286.14 92.83 L286.37 93.05 L286.60 93.27 L286.83 93.48 L287.06 93.70 L287.28 93.92 L287.51 94.13 L287.74 94.35 L287.96 94.57 L288.19 94.79 L288.41 95.00 L288.64 95.22 L288.86 95.44 L289.08 95.65 L289.30 95.87 L289.52 96.09 L289.74 96.31 L289.96 96.52 L290.18 96.74 L290.40 96.96 L290.61 97.18 L290.83 97.40 L291.04 97.61 L291.26 97.83 L291.47 98.05 L291.68 98.27 L291.89 98.49 L292.11 98.70 L292.32 98.92 L292.53 99.14 L292.73 99.36 L292.94 99.58 L293.15 99.79 L293.36 100.01 L293.56 100.22 L293.77 100.44 L293.97 100.65 L294.18 100.86 L294.38 101.08 L294.58 101.29 L294.78 101.50 L294.98 101.71 L295.18 101.92 L295.38 102.14 L295.58 102.35 L295.78 102.56 L295.98 102.77 L296.17 102.98 L296.37 103.19 L296.56 103.40 L296.76 103.61 L296.95 103.83 L297.15 104.04 L297.34 104.25 L297.53 104.46 L297.72 104.68 L297.91 104.89 L298.10 105.11 L298.29 105.32 L298.48 105.54 L298.66 105.75 L298.85 105.97 L299.03 106.19 L299.22 106.41 L299.40 106.63 L299.59 106.85 L299.77 107.07 L299.95 107.29 L300.13 107.51 L300.32 107.73 L300.50 107.96 L300.67 108.18 L300.85 108.40 L301.03 108.63 L301.21 108.85 L301.39 109.07 L301.56 109.30 L301.74 109.52 L301.91 109.74 L302.09 109.97 L302.26 110.19 L302.43 110.42 L302.60 110.64 L302.77 110.87 L302.95 111.10 L303.12 111.32 L303.28 111.55 L303.45 111.77 L303.62 112.00 L303.79 112.23 L303.95 112.45 L304.12 112.68 L304.29 112.91 L304.45 113.13 L304.61 113.36 L304.78 113.59 L304.94 113.82 L305.10 114.04 L305.26 114.27 L305.42 114.50 L305.58 114.73 L305.74 114.95 L305.90 115.18 L306.06 115.41 L306.22 115.63 L306.37 115.86 L306.53 116.09 L306.68 116.32 L306.84 116.54 L306.99 116.77 L307.15 117.00 L307.30 117.23 L307.45 117.45 L307.60 117.68 L307.75 117.91 L307.90 118.13 L308.05 118.36 L308.20 118.59 L308.35 118.81 L308.50 119.04 L308.65 119.26 L308.79 119.49 L308.94 119.72 L309.08 119.94 L309.23 120.17 L309.37 120.39 L309.52 120.61 L309.66 120.83 L309.80 121.05 L309.94 121.27 L310.08 121.49 L310.22 121.71 L310.36 121.93 L310.50 122.15 L310.64 122.36 L310.78 122.58 L310.92 122.79 L311.05 123.01 L311.32 123.43 L311.59 123.86 L311.86 124.28 L312.13 124.70 L312.39 125.13 L312.65 125.55 L312.90 125.97 L313.16 126.38 L313.41 126.80 L313.66 127.22 L313.91 127.64 L314.16 128.06 L314.40 128.48 L314.64 128.90 L314.88 129.33 L315.12 129.75 L315.35 130.18 L315.58 130.60 L315.81 131.03 L316.04 131.46 L316.27 131.89 L316.49 132.33 L316.71 132.76 L316.93 133.20 L317.15 133.65 L317.36 134.09 L317.57 134.54 L317.78 134.99 L317.99 135.44 L318.20 135.90 L318.40 136.36 L318.60 136.82 L318.80 137.29 L319.00 137.76 L319.20 138.24 L319.39 138.71 L319.58 139.20 L319.77 139.69 L319.96 140.19 L320.15 140.69 L320.33 141.21 L320.51 141.72 L320.69 142.24 L320.78 142.50 L320.87 142.76 L321.05 143.29 L321.22 143.81 L321.39 144.34 L321.56 144.86 L321.73 145.38 L321.90 145.90 L322.06 146.41 L322.22 146.93 L322.38 147.44 L322.54 147.95 L322.70 148.47 L322.85 148.98 L323.01 149.49 L323.16 150.00 L323.31 150.51 L323.46 151.02 L323.60 151.53 L323.75 152.04 L323.89 152.55 L324.03 153.06 L324.17 153.57 L324.31 154.07 L324.45 154.58 L324.58 155.08 L324.71 155.59 L324.84 156.09 L324.97 156.60 L325.10 157.10 L325.22 157.60 L325.35 158.10 L325.47 158.60 L325.59 159.10 L325.71 159.60 L325.83 160.10 L325.95 160.60 L326.06 161.09 L326.17 161.59 L326.29 162.08 L326.39 162.58 L326.50 163.07 L326.61 163.56 L326.72 164.05 L326.82 164.54 L326.92 165.03 L327.02 165.52 L327.12 166.00 L327.22 166.49 L327.32 166.97 L327.41 167.45 L327.51 167.93 L327.60 168.41 L327.69 168.89 L327.78 169.37 L327.87 169.84 L327.95 170.31 L328.04 170.78 L328.12 171.25 L328.21 171.72 L328.29 172.19 L328.37 172.65 L328.45 173.11 L328.52 173.57 L328.60 174.03 L328.68 174.48 L328.75 174.93 L328.82 175.38 L328.89 175.82 L328.96 176.25 L329.03 176.69 L329.10 177.12 L329.17 177.55 L329.23 177.97 L329.29 178.40 L329.36 178.82 L329.42 179.25 L329.48 179.67 L329.54 180.09 L329.60 180.51 L329.65 180.93 L329.71 181.35 L329.77 181.77 L329.82 182.18 L329.87 182.60 L329.92 183.02 L329.98 183.44 L330.03 183.86 L330.07 184.28 L330.12 184.69 L330.17 185.11 L330.21 185.53 L330.26 185.95 L330.30 186.37 L330.35 186.78 L330.39 187.20 L330.43 187.62 L330.47 188.03 L330.51 188.45 L330.55 188.86 L330.58 189.28 L330.62 189.69 L330.65 190.10 L330.69 190.51 L330.72 190.92 L330.76 191.33 L330.79 191.73 L330.82 192.14 L330.85 192.54 L330.88 192.94 L330.91 193.33 L330.94 193.72 L330.96 194.12 L330.99 194.50 L331.02 194.89 L331.04 195.27 L331.06 195.64 L331.09 196.02 L331.11 196.39 L331.13 196.77 L331.15 197.21 L331.18 197.68 L331.20 198.19 L331.22 198.74 L331.23 199.30 L331.25 199.89 L331.27 200.50 L331.29 201.13 L331.30 201.77 L331.32 202.42 L331.34 203.08 L331.35 203.74 L331.36 204.41 L331.38 205.08 L331.39 205.76 L331.40 206.43 L331.42 207.10 L331.43 207.77 L331.44 208.44 L331.45 209.10 L331.46 209.76 L331.47 210.41 L331.48 211.06 L331.49 211.69 L331.49 212.33 L331.50 212.95 L331.51 213.56 L331.52 214.17 L331.52 214.77 L331.53 215.35 L331.54 215.93 L331.54 216.50 L331.55 217.06 L331.55 217.61 L331.56 218.15 L331.56 218.68 L331.56 219.19 L331.57 219.70 L331.57 220.20 L331.58 220.69 L331.58 221.16 L331.58 221.63 L331.58 222.08 L331.59 222.52 L331.59 222.95 L331.59 223.37 L331.59 223.78 L331.59 224.17 L331.59 224.55 L331.60 224.92 L331.60 225.28 L331.60 225.79 L331.60 226.26 L331.60 226.70 L331.60 227.11 L331.60 227.47 L331.60 227.88 L331.60 228.24 L331.60 228.30" fill="none" stroke="#E19C24" stroke-width="1.9" stroke-linejoin="round" stroke-linecap="square"/>
<path d="M7.20 228.30 L7.20 227.89 L7.20 227.35 L7.20 226.92 L7.20 226.43 L7.20 225.90 L7.20 225.33 L7.20 224.72 L7.20 224.06 L7.20 223.38 L7.20 223.02 L7.20 222.66 L7.20 222.29 L7.20 221.91 L7.20 221.52 L7.20 221.13 L7.20 220.73 L7.21 220.32 L7.21 219.90 L7.21 219.48 L7.21 219.05 L7.21 218.62 L7.21 218.18 L7.21 217.73 L7.21 217.27 L7.21 216.81 L7.21 216.35 L7.21 215.88 L7.21 215.40 L7.22 214.91 L7.22 214.43 L7.22 213.93 L7.22 213.43 L7.22 212.93 L7.22 212.42 L7.22 211.90 L7.22 211.38 L7.23 210.85 L7.23 210.32 L7.23 209.79 L7.23 209.25 L7.23 208.71 L7.24 208.16 L7.24 207.61 L7.24 207.05 L7.24 206.49 L7.24 205.93 L7.25 205.36 L7.25 204.79 L7.25 204.21 L7.25 203.63 L7.26 203.05 L7.26 202.46 L7.26 201.87 L7.26 201.28 L7.27 200.69 L7.27 200.09 L7.27 199.49 L7.28 198.89 L7.28 198.28 L7.28 197.68 L7.29 197.07 L7.29 196.46 L7.29 195.84 L7.30 195.23 L7.30 194.61 L7.31 194.00 L7.31 193.38 L7.31 192.76 L7.32 192.14 L7.32 191.52 L7.33 190.90 L7.33 190.28 L7.34 189.66 L7.34 189.04 L7.35 188.42 L7.35 187.80 L7.36 187.18 L7.36 186.57 L7.37 185.95 L7.37 185.34 L7.38 184.73 L7.38 184.12 L7.39 183.52 L7.40 182.92 L7.40 182.32 L7.41 181.72 L7.42 181.13 L7.42 180.55 L7.43 179.97 L7.44 179.39 L7.44 178.82 L7.45 178.26 L7.46 177.70 L7.46 177.15 L7.47 176.61 L7.48 176.08 L7.49 175.56 L7.50 175.04 L7.50 174.54 L7.51 174.05 L7.52 173.56 L7.53 173.09 L7.54 172.64 L7.55 172.19 L7.56 171.77 L7.57 171.35 L7.57 170.96 L7.58 170.58 L7.59 170.21 L7.60 169.87 L7.62 169.22 L7.65 168.57 L7.67 167.93 L7.69 167.30 L7.71 166.68 L7.74 166.07 L7.76 165.48 L7.78 164.91 L7.81 164.35 L7.84 163.81 L7.86 163.30 L7.89 162.81 L7.92 162.35 L7.95 161.91 L7.98 161.51 L8.01 161.14 L8.04 160.79 L8.08 160.43 L8.11 160.07 L8.15 159.72 L8.18 159.36 L8.22 159.00 L8.25 158.64 L8.29 158.28 L8.33 157.92 L8.37 157.55 L8.41 157.19 L8.45 156.83 L8.50 156.47 L8.54 156.11 L8.59 155.75 L8.63 155.40 L8.68 155.04 L8.73 154.68 L8.77 154.33 L8.82 153.97 L8.88 153.62 L8.93 153.26 L8.98 152.91 L9.03 152.55 L9.09 152.20 L9.15 151.85 L9.20 151.49 L9.26 151.14 L9.32 150.78 L9.38 150.43 L9.44 150.07 L9.51 149.71 L9.57 149.34 L9.63 148.97 L9.70 148.60 L9.77 148.23 L9.84 147.86 L9.91 147.49 L9.98 147.11 L10.05 146.73 L10.12 146.35 L10.20 145.97 L10.28 145.59 L10.35 145.21 L10.43 144.82 L10.51 144.43 L10.59 144.05 L10.68 143.66 L10.76 143.27 L10.85 142.87 L10.93 142.48 L11.02 142.08 L11.11 141.68 L11.20 141.28 L11.29 140.88 L11.39 140.48 L11.48 140.07 L11.58 139.67 L11.68 139.26 L11.78 138.84 L11.88 138.43 L11.98 138.01 L12.08 137.59 L12.19 137.17 L12.30 136.74 L12.41 136.31 L12.51 135.87 L12.63 135.43 L12.74 134.99 L12.85 134.55 L12.97 134.10 L13.09 133.65 L13.21 133.20 L13.33 132.75 L13.45 132.29 L13.58 131.84 L13.70 131.38 L13.83 130.92 L13.96 130.45 L14.09 129.99 L14.22 129.53 L14.35 129.06 L14.49 128.60 L14.63 128.13 L14.77 127.66 L14.91 127.20 L15.05 126.73 L15.20 126.27 L15.34 125.81 L15.49 125.34 L15.64 124.88 L15.79 124.42 L15.95 123.97 L16.10 123.51 L16.26 123.06 L16.42 122.61 L16.58 122.16 L16.74 121.72 L16.90 121.29 L17.07 120.85 L17.24 120.42 L17.41 119.98 L17.58 119.55 L17.75 119.12 L17.93 118.69 L18.11 118.26 L18.29 117.83 L18.47 117.40 L18.65 116.98 L18.84 116.55 L19.03 116.12 L19.22 115.70 L19.41 115.27 L19.60 114.84 L19.80 114.42 L20.00 113.99 L20.20 113.56 L20.40 113.14 L20.60 112.71 L20.81 112.28 L21.02 111.85 L21.23 111.42 L21.44 110.99 L21.65 110.56 L21.87 110.12 L22.09 109.69 L22.31 109.25 L22.53 108.81 L22.76 108.37 L22.99 107.93 L23.22 107.48 L23.45 107.03 L23.68 106.58 L23.92 106.13 L24.16 105.68 L24.40 105.23 L24.64 104.77 L24.89 104.32 L25.01 104.09 L25.14 103.86 L25.26 103.63 L25.39 103.40 L25.51 103.18 L25.64 102.95 L25.77 102.72 L25.90 102.49 L26.02 102.26 L26.15 102.04 L26.28 101.81 L26.41 101.58 L26.54 101.35 L26.67 101.12 L26.81 100.90 L26.94 100.67 L27.07 100.44 L27.21 100.21 L27.34 99.99 L27.48 99.76 L27.61 99.53 L27.75 99.31 L27.88 99.08 L28.02 98.86 L28.16 98.63 L28.30 98.40 L28.44 98.18 L28.58 97.95 L28.72 97.73 L28.86 97.50 L29.00 97.28 L29.14 97.06 L29.28 96.83 L29.43 96.61 L29.57 96.38 L29.72 96.16 L29.86 95.94 L30.01 95.71 L30.15 95.49 L30.30 95.27 L30.45 95.04 L30.60 94.82 L30.75 94.60 L30.90 94.38 L31.05 94.15 L31.20 93.93 L31.35 93.71 L31.50 93.49 L31.65 93.27 L31.81 93.05 L31.96 92.83 L32.12 92.61 L32.27 92.39 L32.43 92.17 L32.58 91.95 L32.74 91.73 L32.90 91.51 L33.06 91.29 L33.22 91.07 L33.38 90.85 L33.54 90.64 L33.70 90.42 L33.86 90.20 L34.02 89.98 L34.19 89.77 L34.35 89.55 L34.51 89.33 L34.68 89.12 L34.85 88.90 L35.01 88.69 L35.18 88.47 L35.35 88.26 L35.52 88.04 L35.68 87.83 L35.85 87.62 L36.03 87.40 L36.20 87.19 L36.37 86.98 L36.54 86.77 L36.71 86.56 L36.89 86.34 L37.06 86.13 L37.24 85.92 L37.41 85.71 L37.59 85.50 L37.77 85.29 L37.95 85.08 L38.13 84.88 L38.30 84.67 L38.48 84.46 L38.67 84.25 L38.85 84.05 L39.03 83.84 L39.21 83.64 L39.40 83.44 L39.58 83.23 L39.77 83.03 L39.95 82.83 L40.14 82.63 L40.32 82.43 L40.51 82.23 L40.70 82.03 L40.89 81.84 L41.08 81.64 L41.27 81.44 L41.46 81.25 L41.65 81.05 L41.85 80.86 L42.04 80.67 L42.24 80.48 L42.43 80.28 L42.63 80.09 L42.82 79.90 L43.02 79.71 L43.22 79.53 L43.42 79.34 L43.62 79.15 L43.82 78.96 L44.02 78.77 L44.22 78.59 L44.42 78.40 L44.62 78.22 L44.83 78.03 L45.03 77.85 L45.24 77.66 L45.44 77.48 L45.65 77.29 L45.86 77.11 L46.07 76.93 L46.27 76.74 L46.48 76.56 L46.69 76.38 L46.91 76.19 L47.12 76.01 L47.33 75.83 L47.54 75.65 L47.76 75.47 L47.97 75.28 L48.19 75.10 L48.40 74.92 L48.62 74.74 L48.84 74.56 L49.06 74.38 L49.28 74.20 L49.50 74.02 L49.72 73.84 L49.94 73.66 L50.16 73.48 L50.39 73.30 L50.61 73.12 L50.84 72.94 L51.06 72.76 L51.29 72.59 L51.52 72.41 L51.74 72.23 L51.97 72.06 L52.20 71.88 L52.43 71.70 L52.66 71.53 L52.90 71.35 L53.13 71.18 L53.36 71.00 L53.60 70.83 L53.83 70.66 L54.07 70.48 L54.30 70.31 L54.54 70.14 L54.78 69.96 L55.02 69.79 L55.26 69.62 L55.50 69.45 L55.74 69.28 L55.98 69.11 L56.23 68.94 L56.47 68.77 L56.72 68.60 L56.96 68.43 L57.21 68.27 L57.45 68.10 L57.70 67.93 L57.95 67.77 L58.20 67.61 L58.45 67.44 L58.70 67.28 L58.95 67.12 L59.21 66.96 L59.46 66.80 L59.72 66.64 L59.97 66.48 L60.23 66.33 L60.48 66.17 L60.74 66.01 L61.00 65.86 L61.26 65.70 L61.52 65.55 L61.78 65.39 L62.04 65.24 L62.31 65.09 L62.57 64.94 L62.83 64.78 L63.10 64.63 L63.37 64.48 L63.63 64.33 L63.90 64.18 L64.17 64.03 L64.44 63.88 L64.71 63.73 L64.98 63.59 L65.25 63.44 L65.53 63.29 L65.80 63.14 L66.07 63.00 L66.35 62.85 L66.63 62.70 L66.90 62.56 L67.18 62.41 L67.46 62.27 L67.74 62.12 L68.02 61.98 L68.30 61.83 L68.59 61.69 L68.87 61.54 L69.15 61.40 L69.44 61.25 L69.72 61.11 L70.01 60.96 L70.30 60.82 L70.59 60.67 L70.88 60.53 L71.17 60.38 L71.46 60.24 L71.75 60.10 L72.04 59.95 L72.34 59.81 L72.63 59.66 L72.93 59.52 L73.22 59.38 L73.52 59.23 L73.82 59.09 L74.12 58.95 L74.42 58.81 L74.72 58.66 L75.02 58.52 L75.32 58.38 L75.63 58.24 L75.93 58.10 L76.24 57.96 L76.54 57.82 L76.85 57.68 L77.16 57.54 L77.47 57.40 L77.78 57.26 L78.09 57.12 L78.40 56.98 L78.71 56.85 L79.03 56.71 L79.34 56.57 L79.66 56.43 L79.97 56.29 L80.29 56.15 L80.61 56.02 L80.93 55.88 L81.25 55.74 L81.57 55.61 L81.89 55.47 L82.22 55.34 L82.54 55.20 L82.86 55.07 L83.19 54.93 L83.52 54.80 L83.84 54.67 L84.17 54.53 L84.50 54.40 L84.83 54.27 L85.16 54.14 L85.50 54.01 L85.83 53.88 L86.16 53.75 L86.50 53.62 L86.83 53.49 L87.17 53.36 L87.51 53.23 L87.85 53.10 L88.19 52.97 L88.53 52.84 L88.87 52.72 L89.21 52.59 L89.56 52.47 L89.90 52.34 L90.25 52.22 L90.59 52.09 L90.94 51.97 L91.29 51.85 L91.64 51.73 L91.99 51.61 L92.34 51.49 L92.69 51.37 L93.05 51.25 L93.40 51.13 L93.75 51.01 L94.11 50.90 L94.47 50.78 L94.83 50.66 L95.19 50.55 L95.55 50.43 L95.91 50.32 L96.27 50.21 L96.63 50.09 L97.00 49.98 L97.36 49.87 L97.73 49.76 L98.09 49.65 L98.46 49.54 L98.83 49.43 L99.20 49.32 L99.57 49.21 L99.94 49.10 L100.32 48.99 L100.69 48.89 L101.07 48.78 L101.44 48.67 L101.82 48.57 L102.20 48.46 L102.58 48.36 L102.96 48.25 L103.34 48.15 L103.72 48.05 L104.10 47.94 L104.49 47.84 L104.87 47.74 L105.26 47.64 L105.64 47.54 L106.03 47.44 L106.42 47.34 L106.81 47.24 L107.20 47.14 L107.59 47.04 L107.99 46.95 L108.38 46.85 L108.78 46.76 L109.17 46.66 L109.57 46.57 L109.97 46.48 L110.37 46.39 L110.77 46.30 L111.17 46.21 L111.57 46.12 L111.98 46.03 L112.38 45.94 L112.79 45.85 L113.19 45.77 L113.60 45.68 L114.01 45.59 L114.42 45.51 L114.83 45.42 L115.24 45.34 L115.65 45.26 L116.07 45.18 L116.48 45.09 L116.90 45.01 L117.32 44.93 L117.73 44.85 L118.15 44.77 L118.57 44.69 L119.00 44.62 L119.42 44.54 L119.84 44.46 L120.27 44.39 L120.69 44.31 L121.12 44.23 L121.55 44.16 L121.97 44.09 L122.40 44.01 L122.84 43.94 L123.27 43.87 L123.70 43.80 L124.13 43.73 L124.57 43.66 L125.01 43.59 L125.44 43.52 L125.88 43.46 L126.32 43.39 L126.76 43.32 L127.20 43.26 L127.65 43.19 L128.09 43.13 L128.54 43.06 L128.98 43.00 L129.43 42.94 L129.88 42.88 L130.33 42.82 L130.78 42.76 L131.23 42.70 L131.68 42.64 L132.14 42.58 L132.59 42.53 L133.05 42.47 L133.50 42.41 L133.96 42.36 L134.42 42.30 L134.88 42.25 L135.34 42.20 L135.81 42.15 L136.27 42.09 L136.73 42.04 L137.20 41.99 L137.67 41.95 L138.13 41.90 L138.60 41.85 L139.07 41.80 L139.55 41.76 L140.02 41.71 L140.49 41.67 L140.97 41.62 L141.44 41.58 L141.92 41.54 L142.40 41.49 L142.88 41.45 L143.36 41.41 L143.84 41.37 L144.32 41.34 L144.81 41.30 L145.29 41.26 L145.78 41.22 L146.27 41.19 L146.75 41.15 L147.24 41.12 L147.74 41.09 L148.23 41.05 L148.72 41.02 L149.21 40.99 L149.71 40.96 L150.21 40.93 L150.70 40.90 L151.20 40.87 L151.70 40.84 L152.20 40.82 L152.71 40.79 L153.21 40.76 L153.71 40.74 L154.22 40.71 L154.73 40.69 L155.24 40.67 L155.74 40.65 L156.26 40.63 L156.77 40.60 L157.28 40.59 L157.79 40.57 L158.31 40.55 L158.83 40.53 L159.34 40.51 L159.86 40.50 L160.38 40.48 L160.90 40.47 L161.42 40.45 L161.95 40.44 L162.47 40.43 L163.00 40.42 L163.53 40.41 L164.05 40.40 L164.58 40.39 L165.11 40.38 L165.64 40.37 L166.18 40.36 L166.71 40.36 L167.25 40.35 L167.78 40.35 L168.32 40.35 L168.86 40.34 L169.40 40.34 L169.94 40.34 L170.48 40.35 L171.02 40.35 L171.55 40.35 L172.09 40.36 L172.62 40.36 L173.16 40.37 L173.69 40.38 L174.22 40.39 L174.75 40.40 L175.27 40.41 L175.80 40.42 L176.33 40.43 L176.85 40.44 L177.38 40.45 L177.90 40.47 L178.42 40.48 L178.94 40.50 L179.46 40.51 L179.97 40.53 L180.49 40.55 L181.01 40.57 L181.52 40.59 L182.03 40.60 L182.54 40.63 L183.06 40.65 L183.56 40.67 L184.07 40.69 L184.58 40.71 L185.09 40.74 L185.59 40.76 L186.09 40.79 L186.60 40.82 L187.10 40.84 L187.60 40.87 L188.10 40.90 L188.59 40.93 L189.09 40.96 L189.59 40.99 L190.08 41.02 L190.57 41.05 L191.06 41.09 L191.56 41.12 L192.05 41.15 L192.53 41.19 L193.02 41.22 L193.51 41.26 L193.99 41.30 L194.48 41.34 L194.96 41.37 L195.44 41.41 L195.92 41.45 L196.40 41.49 L196.88 41.54 L197.36 41.58 L197.83 41.62 L198.31 41.67 L198.78 41.71 L199.25 41.76 L199.73 41.80 L200.20 41.85 L200.67 41.90 L201.13 41.95 L201.60 41.99 L202.07 42.04 L202.53 42.09 L202.99 42.15 L203.46 42.20 L203.92 42.25 L204.38 42.30 L204.84 42.36 L205.30 42.41 L205.75 42.47 L206.21 42.53 L206.66 42.58 L207.12 42.64 L207.57 42.70 L208.02 42.76 L208.47 42.82 L208.92 42.88 L209.37 42.94 L209.82 43.00 L210.26 43.06 L210.71 43.13 L211.15 43.19 L211.60 43.26 L212.04 43.32 L212.48 43.39 L212.92 43.46 L213.36 43.52 L213.79 43.59 L214.23 43.66 L214.67 43.73 L215.10 43.80 L215.53 43.87 L215.96 43.94 L216.40 44.01 L216.83 44.09 L217.25 44.16 L217.68 44.23 L218.11 44.31 L218.53 44.39 L218.96 44.46 L219.38 44.54 L219.80 44.62 L220.23 44.69 L220.65 44.77 L221.07 44.85 L221.48 44.93 L221.90 45.01 L222.32 45.09 L222.73 45.18 L223.15 45.26 L223.56 45.34 L223.97 45.42 L224.38 45.51 L224.79 45.59 L225.20 45.68 L225.61 45.77 L226.01 45.85 L226.42 45.94 L226.82 46.03 L227.23 46.12 L227.63 46.21 L228.03 46.30 L228.43 46.39 L228.83 46.48 L229.23 46.57 L229.63 46.66 L230.02 46.76 L230.42 46.85 L230.81 46.95 L231.21 47.04 L231.60 47.14 L231.99 47.24 L232.38 47.34 L232.77 47.44 L233.16 47.54 L233.54 47.64 L233.93 47.74 L234.31 47.84 L234.70 47.94 L235.08 48.05 L235.46 48.15 L235.84 48.25 L236.22 48.36 L236.60 48.46 L236.98 48.57 L237.36 48.67 L237.73 48.78 L238.11 48.89 L238.48 48.99 L238.86 49.10 L239.23 49.21 L239.60 49.32 L239.97 49.43 L240.34 49.54 L240.71 49.65 L241.07 49.76 L241.44 49.87 L241.80 49.98 L242.17 50.09 L242.53 50.21 L242.89 50.32 L243.25 50.43 L243.61 50.55 L243.97 50.66 L244.33 50.78 L244.69 50.90 L245.05 51.01 L245.40 51.13 L245.75 51.25 L246.11 51.37 L246.46 51.49 L246.81 51.61 L247.16 51.73 L247.51 51.85 L247.86 51.97 L248.21 52.09 L248.55 52.22 L248.90 52.34 L249.24 52.47 L249.59 52.59 L249.93 52.72 L250.27 52.84 L250.61 52.97 L250.95 53.10 L251.29 53.23 L251.63 53.36 L251.97 53.49 L252.30 53.62 L252.64 53.75 L252.97 53.88 L253.30 54.01 L253.64 54.14 L253.97 54.27 L254.30 54.40 L254.63 54.53 L254.96 54.67 L255.28 54.80 L255.61 54.93 L255.94 55.07 L256.26 55.20 L256.58 55.34 L256.91 55.47 L257.23 55.61 L257.55 55.74 L257.87 55.88 L258.19 56.02 L258.51 56.15 L258.83 56.29 L259.14 56.43 L259.46 56.57 L259.77 56.71 L260.09 56.85 L260.40 56.98 L260.71 57.12 L261.02 57.26 L261.33 57.40 L261.64 57.54 L261.95 57.68 L262.26 57.82 L262.56 57.96 L262.87 58.10 L263.17 58.24 L263.48 58.38 L263.78 58.52 L264.08 58.66 L264.38 58.81 L264.68 58.95 L264.98 59.09 L265.28 59.23 L265.58 59.38 L265.87 59.52 L266.17 59.66 L266.46 59.81 L266.76 59.95 L267.05 60.10 L267.34 60.24 L267.63 60.38 L267.92 60.53 L268.21 60.67 L268.50 60.82 L268.79 60.96 L269.08 61.11 L269.36 61.25 L269.65 61.40 L269.93 61.54 L270.21 61.69 L270.50 61.83 L270.78 61.98 L271.06 62.12 L271.34 62.27 L271.62 62.41 L271.90 62.56 L272.17 62.70 L272.45 62.85 L272.73 63.00 L273.00 63.14 L273.27 63.29 L273.55 63.44 L273.82 63.59 L274.09 63.73 L274.36 63.88 L274.63 64.03 L274.90 64.18 L275.17 64.33 L275.43 64.48 L275.70 64.63 L275.97 64.78 L276.23 64.94 L276.49 65.09 L276.76 65.24 L277.02 65.39 L277.28 65.55 L277.54 65.70 L277.80 65.86 L278.06 66.01 L278.32 66.17 L278.57 66.33 L278.83 66.48 L279.08 66.64 L279.34 66.80 L279.59 66.96 L279.85 67.12 L280.10 67.28 L280.35 67.44 L280.60 67.61 L280.85 67.77 L281.10 67.93 L281.35 68.10 L281.59 68.27 L281.84 68.43 L282.08 68.60 L282.33 68.77 L282.57 68.94 L282.82 69.11 L283.06 69.28 L283.30 69.45 L283.54 69.62 L283.78 69.79 L284.02 69.96 L284.26 70.14 L284.50 70.31 L284.73 70.48 L284.97 70.66 L285.20 70.83 L285.44 71.00 L285.67 71.18 L285.90 71.35 L286.14 71.53 L286.37 71.70 L286.60 71.88 L286.83 72.06 L287.06 72.23 L287.28 72.41 L287.51 72.59 L287.74 72.76 L287.96 72.94 L288.19 73.12 L288.41 73.30 L288.64 73.48 L288.86 73.66 L289.08 73.84 L289.30 74.02 L289.52 74.20 L289.74 74.38 L289.96 74.56 L290.18 74.74 L290.40 74.92 L290.61 75.10 L290.83 75.28 L291.04 75.47 L291.26 75.65 L291.47 75.83 L291.68 76.01 L291.89 76.19 L292.11 76.38 L292.32 76.56 L292.53 76.74 L292.73 76.93 L292.94 77.11 L293.15 77.29 L293.36 77.48 L293.56 77.66 L293.77 77.85 L293.97 78.03 L294.18 78.22 L294.38 78.40 L294.58 78.59 L294.78 78.77 L294.98 78.96 L295.18 79.15 L295.38 79.34 L295.58 79.53 L295.78 79.71 L295.98 79.90 L296.17 80.09 L296.37 80.28 L296.56 80.48 L296.76 80.67 L296.95 80.86 L297.15 81.05 L297.34 81.25 L297.53 81.44 L297.72 81.64 L297.91 81.84 L298.10 82.03 L298.29 82.23 L298.48 82.43 L298.66 82.63 L298.85 82.83 L299.03 83.03 L299.22 83.23 L299.40 83.44 L299.59 83.64 L299.77 83.84 L299.95 84.05 L300.13 84.25 L300.32 84.46 L300.50 84.67 L300.67 84.88 L300.85 85.08 L301.03 85.29 L301.21 85.50 L301.39 85.71 L301.56 85.92 L301.74 86.13 L301.91 86.34 L302.09 86.56 L302.26 86.77 L302.43 86.98 L302.60 87.19 L302.77 87.40 L302.95 87.62 L303.12 87.83 L303.28 88.04 L303.45 88.26 L303.62 88.47 L303.79 88.69 L303.95 88.90 L304.12 89.12 L304.29 89.33 L304.45 89.55 L304.61 89.77 L304.78 89.98 L304.94 90.20 L305.10 90.42 L305.26 90.64 L305.42 90.85 L305.58 91.07 L305.74 91.29 L305.90 91.51 L306.06 91.73 L306.22 91.95 L306.37 92.17 L306.53 92.39 L306.68 92.61 L306.84 92.83 L306.99 93.05 L307.15 93.27 L307.30 93.49 L307.45 93.71 L307.60 93.93 L307.75 94.15 L307.90 94.38 L308.05 94.60 L308.20 94.82 L308.35 95.04 L308.50 95.27 L308.65 95.49 L308.79 95.71 L308.94 95.94 L309.08 96.16 L309.23 96.38 L309.37 96.61 L309.52 96.83 L309.66 97.06 L309.80 97.28 L309.94 97.50 L310.08 97.73 L310.22 97.95 L310.36 98.18 L310.50 98.40 L310.64 98.63 L310.78 98.86 L310.92 99.08 L311.05 99.31 L311.19 99.53 L311.32 99.76 L311.46 99.99 L311.59 100.21 L311.73 100.44 L311.86 100.67 L311.99 100.90 L312.13 101.12 L312.26 101.35 L312.39 101.58 L312.52 101.81 L312.65 102.04 L312.78 102.26 L312.90 102.49 L313.03 102.72 L313.16 102.95 L313.29 103.18 L313.41 103.40 L313.54 103.63 L313.66 103.86 L313.79 104.09 L313.91 104.32 L314.03 104.54 L314.28 105.00 L314.52 105.45 L314.76 105.90 L315.00 106.36 L315.23 106.81 L315.47 107.26 L315.70 107.70 L315.93 108.15 L316.15 108.59 L316.38 109.03 L316.60 109.47 L316.82 109.91 L317.04 110.34 L317.25 110.77 L317.47 111.21 L317.68 111.64 L317.89 112.07 L318.09 112.49 L318.30 112.92 L318.50 113.35 L318.70 113.78 L318.90 114.20 L319.10 114.63 L319.29 115.06 L319.49 115.48 L319.68 115.91 L319.87 116.34 L320.05 116.76 L320.24 117.19 L320.42 117.62 L320.60 118.05 L320.78 118.48 L320.96 118.91 L321.13 119.34 L321.31 119.77 L321.48 120.20 L321.65 120.63 L321.81 121.07 L321.98 121.50 L322.14 121.94 L322.30 122.39 L322.46 122.83 L322.62 123.28 L322.78 123.74 L322.93 124.19 L323.08 124.65 L323.24 125.11 L323.38 125.57 L323.53 126.04 L323.68 126.50 L323.82 126.97 L323.96 127.43 L324.10 127.90 L324.24 128.36 L324.38 128.83 L324.51 129.29 L324.65 129.76 L324.78 130.22 L324.91 130.69 L325.04 131.15 L325.16 131.61 L325.29 132.07 L325.41 132.52 L325.53 132.98 L325.65 133.43 L325.77 133.88 L325.89 134.33 L326.00 134.77 L326.12 135.21 L326.23 135.65 L326.34 136.09 L326.45 136.52 L326.56 136.95 L326.66 137.38 L326.77 137.80 L326.87 138.22 L326.97 138.64 L327.07 139.05 L327.17 139.46 L327.27 139.87 L327.36 140.28 L327.46 140.68 L327.55 141.08 L327.64 141.48 L327.73 141.88 L327.82 142.28 L327.91 142.68 L328.00 143.07 L328.08 143.46 L328.17 143.85 L328.25 144.24 L328.33 144.63 L328.41 145.01 L328.49 145.40 L328.56 145.78 L328.64 146.16 L328.71 146.54 L328.79 146.92 L328.86 147.30 L328.93 147.67 L329.00 148.05 L329.07 148.42 L329.13 148.79 L329.20 149.16 L329.26 149.52 L329.33 149.89 L329.39 150.25 L329.45 150.60 L329.51 150.96 L329.57 151.32 L329.63 151.67 L329.68 152.02 L329.74 152.38 L329.79 152.73 L329.85 153.08 L329.90 153.44 L329.95 153.79 L330.00 154.15 L330.05 154.50 L330.10 154.86 L330.15 155.22 L330.19 155.58 L330.24 155.93 L330.28 156.29 L330.32 156.65 L330.37 157.01 L330.41 157.37 L330.45 157.73 L330.49 158.10 L330.53 158.46 L330.56 158.82 L330.60 159.18 L330.64 159.54 L330.67 159.90 L330.71 160.25 L330.74 160.61 L330.77 160.96 L330.80 161.32 L330.83 161.71 L330.86 162.13 L330.89 162.58 L330.92 163.05 L330.95 163.56 L330.98 164.08 L331.00 164.63 L331.03 165.19 L331.05 165.78 L331.08 166.37 L331.10 166.99 L331.12 167.61 L331.14 168.25 L331.17 168.89 L331.19 169.54 L331.21 170.21 L331.22 170.58 L331.23 170.96 L331.23 171.35 L331.24 171.77 L331.25 172.19 L331.26 172.64 L331.27 173.09 L331.28 173.56 L331.29 174.05 L331.30 174.54 L331.30 175.04 L331.31 175.56 L331.32 176.08 L331.33 176.61 L331.34 177.15 L331.34 177.70 L331.35 178.26 L331.36 178.82 L331.36 179.39 L331.37 179.97 L331.38 180.55 L331.38 181.13 L331.39 181.72 L331.40 182.32 L331.40 182.92 L331.41 183.52 L331.42 184.12 L331.42 184.73 L331.43 185.34 L331.43 185.95 L331.44 186.57 L331.44 187.18 L331.45 187.80 L331.45 188.42 L331.46 189.04 L331.46 189.66 L331.47 190.28 L331.47 190.90 L331.48 191.52 L331.48 192.14 L331.49 192.76 L331.49 193.38 L331.49 194.00 L331.50 194.61 L331.50 195.23 L331.51 195.84 L331.51 196.46 L331.51 197.07 L331.52 197.68 L331.52 198.28 L331.52 198.89 L331.53 199.49 L331.53 200.09 L331.53 200.69 L331.54 201.28 L331.54 201.87 L331.54 202.46 L331.54 203.05 L331.55 203.63 L331.55 204.21 L331.55 204.79 L331.55 205.36 L331.56 205.93 L331.56 206.49 L331.56 207.05 L331.56 207.61 L331.56 208.16 L331.57 208.71 L331.57 209.25 L331.57 209.79 L331.57 210.32 L331.57 210.85 L331.58 211.38 L331.58 211.90 L331.58 212.42 L331.58 212.93 L331.58 213.43 L331.58 213.93 L331.58 214.43 L331.58 214.91 L331.59 215.40 L331.59 215.88 L331.59 216.35 L331.59 216.81 L331.59 217.27 L331.59 217.73 L331.59 218.18 L331.59 218.62 L331.59 219.05 L331.59 219.48 L331.59 219.90 L331.59 220.32 L331.60 220.73 L331.60 221.13 L331.60 221.52 L331.60 221.91 L331.60 222.29 L331.60 222.66 L331.60 223.02 L331.60 223.38 L331.60 224.06 L331.60 224.72 L331.60 225.33 L331.60 225.90 L331.60 226.43 L331.60 226.92 L331.60 227.35 L331.60 227.73 L331.60 228.16 L331.60 228.30" fill="none" stroke="#8FB032" stroke-width="1.9" stroke-linejoin="round" stroke-linecap="square"/>
<path d="M7.20 228.30 L7.20 227.78 L7.20 227.34 L7.20 226.82 L7.20 226.23 L7.20 225.58 L7.20 224.87 L7.20 224.49 L7.20 224.11 L7.20 223.71 L7.20 223.30 L7.20 222.88 L7.20 222.44 L7.20 222.00 L7.20 221.54 L7.20 221.08 L7.20 220.60 L7.20 220.12 L7.20 219.62 L7.20 219.12 L7.20 218.60 L7.21 218.08 L7.21 217.55 L7.21 217.01 L7.21 216.46 L7.21 215.90 L7.21 215.34 L7.21 214.77 L7.21 214.19 L7.21 213.60 L7.21 213.00 L7.21 212.40 L7.21 211.79 L7.22 211.17 L7.22 210.54 L7.22 209.91 L7.22 209.27 L7.22 208.63 L7.22 207.98 L7.22 207.32 L7.22 206.65 L7.23 205.98 L7.23 205.31 L7.23 204.63 L7.23 203.94 L7.23 203.25 L7.24 202.55 L7.24 201.85 L7.24 201.14 L7.24 200.42 L7.24 199.71 L7.25 198.98 L7.25 198.26 L7.25 197.53 L7.25 196.79 L7.26 196.05 L7.26 195.31 L7.26 194.56 L7.26 193.81 L7.27 193.05 L7.27 192.30 L7.27 191.54 L7.28 190.78 L7.28 190.01 L7.28 189.24 L7.29 188.47 L7.29 187.70 L7.29 186.93 L7.30 186.15 L7.30 185.37 L7.31 184.60 L7.31 183.82 L7.31 183.04 L7.32 182.26 L7.32 181.48 L7.33 180.70 L7.33 179.92 L7.34 179.14 L7.34 178.37 L7.35 177.59 L7.35 176.82 L7.36 176.04 L7.36 175.27 L7.37 174.51 L7.37 173.74 L7.38 172.98 L7.38 172.23 L7.39 171.47 L7.40 170.73 L7.40 169.98 L7.41 169.24 L7.42 168.51 L7.42 167.79 L7.43 167.07 L7.44 166.36 L7.44 165.66 L7.45 164.96 L7.46 164.28 L7.46 163.60 L7.47 162.94 L7.48 162.29 L7.49 161.64 L7.50 161.01 L7.50 160.40 L7.51 159.80 L7.52 159.21 L7.53 158.64 L7.54 158.08 L7.55 157.54 L7.56 157.03 L7.57 156.53 L7.57 156.05 L7.58 155.59 L7.59 155.16 L7.60 154.75 L7.61 154.36 L7.62 153.97 L7.63 153.58 L7.65 153.20 L7.66 152.81 L7.67 152.44 L7.68 152.06 L7.69 151.69 L7.70 151.32 L7.71 150.96 L7.72 150.60 L7.74 150.25 L7.75 149.90 L7.76 149.55 L7.77 149.21 L7.80 148.55 L7.82 147.92 L7.85 147.31 L7.88 146.73 L7.91 146.19 L7.94 145.68 L7.97 145.20 L8.00 144.77 L8.03 144.38 L8.06 143.99 L8.09 143.60 L8.13 143.20 L8.16 142.81 L8.20 142.42 L8.24 142.03 L8.27 141.64 L8.31 141.24 L8.35 140.85 L8.39 140.46 L8.43 140.08 L8.48 139.69 L8.52 139.30 L8.56 138.92 L8.61 138.54 L8.65 138.16 L8.70 137.78 L8.75 137.40 L8.80 137.03 L8.85 136.66 L8.90 136.28 L8.95 135.92 L9.01 135.55 L9.06 135.18 L9.12 134.81 L9.17 134.45 L9.23 134.08 L9.29 133.72 L9.35 133.35 L9.41 132.98 L9.47 132.61 L9.54 132.24 L9.60 131.87 L9.67 131.49 L9.73 131.11 L9.80 130.73 L9.87 130.35 L9.94 129.97 L10.01 129.59 L10.09 129.21 L10.16 128.82 L10.24 128.43 L10.31 128.05 L10.39 127.66 L10.47 127.27 L10.55 126.88 L10.63 126.49 L10.72 126.10 L10.80 125.71 L10.89 125.31 L10.98 124.92 L11.07 124.52 L11.16 124.12 L11.25 123.72 L11.34 123.32 L11.44 122.92 L11.53 122.52 L11.63 122.11 L11.73 121.70 L11.83 121.29 L11.93 120.88 L12.03 120.46 L12.14 120.04 L12.24 119.62 L12.35 119.19 L12.46 118.76 L12.57 118.33 L12.68 117.89 L12.80 117.45 L12.91 117.01 L13.03 116.56 L13.15 116.12 L13.27 115.67 L13.39 115.22 L13.51 114.76 L13.64 114.31 L13.76 113.85 L13.89 113.40 L14.02 112.94 L14.15 112.48 L14.29 112.02 L14.42 111.56 L14.56 111.11 L14.70 110.65 L14.84 110.19 L14.98 109.73 L15.12 109.28 L15.27 108.83 L15.42 108.38 L15.56 107.93 L15.72 107.48 L15.87 107.04 L16.02 106.60 L16.18 106.16 L16.34 105.73 L16.50 105.30 L16.66 104.88 L16.82 104.46 L16.99 104.05 L17.15 103.64 L17.32 103.23 L17.49 102.83 L17.67 102.42 L17.84 102.02 L18.02 101.62 L18.20 101.22 L18.38 100.82 L18.56 100.42 L18.75 100.03 L18.93 99.63 L19.12 99.24 L19.31 98.84 L19.51 98.45 L19.70 98.06 L19.90 97.66 L20.10 97.27 L20.30 96.88 L20.50 96.49 L20.71 96.09 L20.91 95.70 L21.12 95.31 L21.33 94.91 L21.55 94.52 L21.76 94.12 L21.98 93.72 L22.20 93.32 L22.42 92.92 L22.65 92.52 L22.87 92.11 L23.10 91.70 L23.33 91.29 L23.57 90.88 L23.80 90.46 L24.04 90.05 L24.28 89.63 L24.52 89.21 L24.77 88.79 L25.01 88.38 L25.26 87.96 L25.51 87.54 L25.77 87.12 L26.02 86.70 L26.28 86.29 L26.54 85.87 L26.81 85.45 L27.07 85.04 L27.34 84.62 L27.61 84.21 L27.88 83.80 L28.16 83.39 L28.44 82.98 L28.72 82.57 L29.00 82.16 L29.28 81.76 L29.57 81.35 L29.86 80.95 L30.15 80.55 L30.45 80.15 L30.75 79.75 L31.05 79.35 L31.35 78.95 L31.50 78.75 L31.65 78.56 L31.81 78.36 L31.96 78.16 L32.12 77.96 L32.27 77.77 L32.43 77.57 L32.58 77.38 L32.74 77.18 L32.90 76.99 L33.06 76.79 L33.22 76.60 L33.38 76.40 L33.54 76.21 L33.70 76.02 L33.86 75.82 L34.02 75.63 L34.19 75.44 L34.35 75.25 L34.51 75.06 L34.68 74.87 L34.85 74.68 L35.01 74.49 L35.18 74.30 L35.35 74.11 L35.52 73.92 L35.68 73.73 L35.85 73.54 L36.03 73.36 L36.20 73.17 L36.37 72.98 L36.54 72.80 L36.71 72.61 L36.89 72.43 L37.06 72.24 L37.24 72.06 L37.41 71.88 L37.59 71.69 L37.77 71.51 L37.95 71.33 L38.13 71.15 L38.30 70.97 L38.48 70.79 L38.67 70.61 L38.85 70.43 L39.03 70.25 L39.21 70.08 L39.40 69.90 L39.58 69.73 L39.77 69.55 L39.95 69.38 L40.14 69.21 L40.32 69.03 L40.51 68.86 L40.70 68.69 L40.89 68.52 L41.08 68.35 L41.27 68.18 L41.46 68.02 L41.65 67.85 L41.85 67.68 L42.04 67.51 L42.24 67.35 L42.43 67.18 L42.63 67.02 L42.82 66.85 L43.02 66.69 L43.22 66.53 L43.42 66.36 L43.62 66.20 L43.82 66.04 L44.02 65.88 L44.22 65.71 L44.42 65.55 L44.62 65.39 L44.83 65.23 L45.03 65.07 L45.24 64.91 L45.44 64.75 L45.65 64.59 L45.86 64.43 L46.07 64.27 L46.27 64.11 L46.48 63.95 L46.69 63.79 L46.91 63.63 L47.12 63.48 L47.33 63.32 L47.54 63.16 L47.76 63.00 L47.97 62.84 L48.19 62.68 L48.40 62.53 L48.62 62.37 L48.84 62.21 L49.06 62.05 L49.28 61.90 L49.50 61.74 L49.72 61.58 L49.94 61.43 L50.16 61.27 L50.39 61.12 L50.61 60.96 L50.84 60.81 L51.06 60.66 L51.29 60.50 L51.52 60.35 L51.74 60.20 L51.97 60.05 L52.20 59.89 L52.43 59.74 L52.66 59.59 L52.90 59.44 L53.13 59.29 L53.36 59.14 L53.60 58.99 L53.83 58.85 L54.07 58.70 L54.30 58.55 L54.54 58.41 L54.78 58.26 L55.02 58.11 L55.26 57.97 L55.50 57.83 L55.74 57.68 L55.98 57.54 L56.23 57.40 L56.47 57.26 L56.72 57.12 L56.96 56.98 L57.21 56.84 L57.45 56.70 L57.70 56.56 L57.95 56.42 L58.20 56.28 L58.45 56.15 L58.70 56.01 L58.95 55.88 L59.21 55.75 L59.46 55.61 L59.72 55.48 L59.97 55.35 L60.23 55.22 L60.48 55.09 L60.74 54.96 L61.00 54.83 L61.26 54.70 L61.52 54.57 L61.78 54.45 L62.04 54.32 L62.31 54.19 L62.57 54.07 L62.83 53.94 L63.10 53.82 L63.37 53.70 L63.63 53.57 L63.90 53.45 L64.17 53.33 L64.44 53.21 L64.71 53.08 L64.98 52.96 L65.25 52.84 L65.53 52.72 L65.80 52.60 L66.07 52.48 L66.35 52.36 L66.63 52.24 L66.90 52.13 L67.18 52.01 L67.46 51.89 L67.74 51.77 L68.02 51.65 L68.30 51.54 L68.59 51.42 L68.87 51.30 L69.15 51.19 L69.44 51.07 L69.72 50.96 L70.01 50.84 L70.30 50.73 L70.59 50.61 L70.88 50.50 L71.17 50.38 L71.46 50.27 L71.75 50.15 L72.04 50.04 L72.34 49.92 L72.63 49.81 L72.93 49.70 L73.22 49.59 L73.52 49.47 L73.82 49.36 L74.12 49.25 L74.42 49.14 L74.72 49.03 L75.02 48.92 L75.32 48.82 L75.63 48.71 L75.93 48.60 L76.24 48.49 L76.54 48.39 L76.85 48.28 L77.16 48.17 L77.47 48.07 L77.78 47.96 L78.09 47.86 L78.40 47.76 L78.71 47.65 L79.03 47.55 L79.34 47.45 L79.66 47.34 L79.97 47.24 L80.29 47.14 L80.61 47.04 L80.93 46.94 L81.25 46.84 L81.57 46.74 L81.89 46.64 L82.22 46.54 L82.54 46.44 L82.86 46.35 L83.19 46.25 L83.52 46.15 L83.84 46.05 L84.17 45.96 L84.50 45.86 L84.83 45.76 L85.16 45.67 L85.50 45.57 L85.83 45.48 L86.16 45.38 L86.50 45.29 L86.83 45.20 L87.17 45.10 L87.51 45.01 L87.85 44.92 L88.19 44.83 L88.53 44.73 L88.87 44.64 L89.21 44.55 L89.56 44.46 L89.90 44.37 L90.25 44.28 L90.59 44.19 L90.94 44.11 L91.29 44.02 L91.64 43.93 L91.99 43.85 L92.34 43.76 L92.69 43.68 L93.05 43.59 L93.40 43.51 L93.75 43.43 L94.11 43.34 L94.47 43.26 L94.83 43.18 L95.19 43.10 L95.55 43.02 L95.91 42.94 L96.27 42.86 L96.63 42.78 L97.00 42.70 L97.36 42.62 L97.73 42.54 L98.09 42.47 L98.46 42.39 L98.83 42.31 L99.20 42.24 L99.57 42.16 L99.94 42.09 L100.32 42.01 L100.69 41.94 L101.07 41.87 L101.44 41.79 L101.82 41.72 L102.20 41.65 L102.58 41.57 L102.96 41.50 L103.34 41.43 L103.72 41.36 L104.10 41.29 L104.49 41.22 L104.87 41.15 L105.26 41.08 L105.64 41.01 L106.03 40.94 L106.42 40.88 L106.81 40.81 L107.20 40.74 L107.59 40.68 L107.99 40.61 L108.38 40.55 L108.78 40.48 L109.17 40.42 L109.57 40.36 L109.97 40.30 L110.37 40.24 L110.77 40.18 L111.17 40.12 L111.57 40.06 L111.98 40.00 L112.38 39.94 L112.79 39.88 L113.19 39.82 L113.60 39.77 L114.01 39.71 L114.42 39.66 L114.83 39.60 L115.24 39.55 L115.65 39.49 L116.07 39.44 L116.48 39.39 L116.90 39.33 L117.32 39.28 L117.73 39.23 L118.15 39.18 L118.57 39.13 L119.00 39.08 L119.42 39.03 L119.84 38.99 L120.27 38.94 L120.69 38.89 L121.12 38.84 L121.55 38.80 L121.97 38.75 L122.40 38.71 L122.84 38.66 L123.27 38.62 L123.70 38.57 L124.13 38.53 L124.57 38.49 L125.01 38.45 L125.44 38.41 L125.88 38.36 L126.32 38.32 L126.76 38.28 L127.20 38.24 L127.65 38.21 L128.09 38.17 L128.54 38.13 L128.98 38.09 L129.43 38.05 L129.88 38.02 L130.33 37.98 L130.78 37.95 L131.23 37.91 L131.68 37.88 L132.14 37.84 L132.59 37.81 L133.05 37.77 L133.50 37.74 L133.96 37.71 L134.42 37.68 L134.88 37.65 L135.34 37.62 L135.81 37.59 L136.27 37.56 L136.73 37.53 L137.20 37.50 L137.67 37.47 L138.13 37.44 L138.60 37.41 L139.07 37.39 L139.55 37.36 L140.02 37.33 L140.49 37.31 L140.97 37.28 L141.44 37.26 L141.92 37.23 L142.40 37.21 L142.88 37.18 L143.36 37.16 L143.84 37.14 L144.32 37.12 L144.81 37.09 L145.29 37.07 L145.78 37.05 L146.27 37.03 L146.75 37.01 L147.24 36.99 L147.74 36.97 L148.23 36.95 L148.72 36.93 L149.21 36.92 L149.71 36.90 L150.21 36.88 L150.70 36.87 L151.20 36.85 L151.70 36.83 L152.20 36.82 L152.71 36.80 L153.21 36.79 L153.71 36.78 L154.22 36.76 L154.73 36.75 L155.24 36.74 L155.74 36.72 L156.26 36.71 L156.77 36.70 L157.28 36.69 L157.79 36.68 L158.31 36.67 L158.83 36.66 L159.34 36.65 L159.86 36.64 L160.38 36.63 L160.90 36.63 L161.42 36.62 L161.95 36.61 L162.47 36.61 L163.00 36.60 L163.53 36.59 L164.05 36.59 L164.58 36.59 L165.11 36.58 L165.64 36.58 L166.18 36.57 L166.71 36.57 L167.25 36.57 L167.78 36.57 L168.32 36.57 L168.86 36.57 L169.40 36.57 L169.94 36.57 L170.48 36.57 L171.02 36.57 L171.55 36.57 L172.09 36.57 L172.62 36.57 L173.16 36.58 L173.69 36.58 L174.22 36.59 L174.75 36.59 L175.27 36.59 L175.80 36.60 L176.33 36.61 L176.85 36.61 L177.38 36.62 L177.90 36.63 L178.42 36.63 L178.94 36.64 L179.46 36.65 L179.97 36.66 L180.49 36.67 L181.01 36.68 L181.52 36.69 L182.03 36.70 L182.54 36.71 L183.06 36.72 L183.56 36.74 L184.07 36.75 L184.58 36.76 L185.09 36.78 L185.59 36.79 L186.09 36.80 L186.60 36.82 L187.10 36.83 L187.60 36.85 L188.10 36.87 L188.59 36.88 L189.09 36.90 L189.59 36.92 L190.08 36.93 L190.57 36.95 L191.06 36.97 L191.56 36.99 L192.05 37.01 L192.53 37.03 L193.02 37.05 L193.51 37.07 L193.99 37.09 L194.48 37.12 L194.96 37.14 L195.44 37.16 L195.92 37.18 L196.40 37.21 L196.88 37.23 L197.36 37.26 L197.83 37.28 L198.31 37.31 L198.78 37.33 L199.25 37.36 L199.73 37.39 L200.20 37.41 L200.67 37.44 L201.13 37.47 L201.60 37.50 L202.07 37.53 L202.53 37.56 L202.99 37.59 L203.46 37.62 L203.92 37.65 L204.38 37.68 L204.84 37.71 L205.30 37.74 L205.75 37.77 L206.21 37.81 L206.66 37.84 L207.12 37.88 L207.57 37.91 L208.02 37.95 L208.47 37.98 L208.92 38.02 L209.37 38.05 L209.82 38.09 L210.26 38.13 L210.71 38.17 L211.15 38.21 L211.60 38.24 L212.04 38.28 L212.48 38.32 L212.92 38.36 L213.36 38.41 L213.79 38.45 L214.23 38.49 L214.67 38.53 L215.10 38.57 L215.53 38.62 L215.96 38.66 L216.40 38.71 L216.83 38.75 L217.25 38.80 L217.68 38.84 L218.11 38.89 L218.53 38.94 L218.96 38.99 L219.38 39.03 L219.80 39.08 L220.23 39.13 L220.65 39.18 L221.07 39.23 L221.48 39.28 L221.90 39.33 L222.32 39.39 L222.73 39.44 L223.15 39.49 L223.56 39.55 L223.97 39.60 L224.38 39.66 L224.79 39.71 L225.20 39.77 L225.61 39.82 L226.01 39.88 L226.42 39.94 L226.82 40.00 L227.23 40.06 L227.63 40.12 L228.03 40.18 L228.43 40.24 L228.83 40.30 L229.23 40.36 L229.63 40.42 L230.02 40.48 L230.42 40.55 L230.81 40.61 L231.21 40.68 L231.60 40.74 L231.99 40.81 L232.38 40.88 L232.77 40.94 L233.16 41.01 L233.54 41.08 L233.93 41.15 L234.31 41.22 L234.70 41.29 L235.08 41.36 L235.46 41.43 L235.84 41.50 L236.22 41.57 L236.60 41.65 L236.98 41.72 L237.36 41.79 L237.73 41.87 L238.11 41.94 L238.48 42.01 L238.86 42.09 L239.23 42.16 L239.60 42.24 L239.97 42.31 L240.34 42.39 L240.71 42.47 L241.07 42.54 L241.44 42.62 L241.80 42.70 L242.17 42.78 L242.53 42.86 L242.89 42.94 L243.25 43.02 L243.61 43.10 L243.97 43.18 L244.33 43.26 L244.69 43.34 L245.05 43.43 L245.40 43.51 L245.75 43.59 L246.11 43.68 L246.46 43.76 L246.81 43.85 L247.16 43.93 L247.51 44.02 L247.86 44.11 L248.21 44.19 L248.55 44.28 L248.90 44.37 L249.24 44.46 L249.59 44.55 L249.93 44.64 L250.27 44.73 L250.61 44.83 L250.95 44.92 L251.29 45.01 L251.63 45.10 L251.97 45.20 L252.30 45.29 L252.64 45.38 L252.97 45.48 L253.30 45.57 L253.64 45.67 L253.97 45.76 L254.30 45.86 L254.63 45.96 L254.96 46.05 L255.28 46.15 L255.61 46.25 L255.94 46.35 L256.26 46.44 L256.58 46.54 L256.91 46.64 L257.23 46.74 L257.55 46.84 L257.87 46.94 L258.19 47.04 L258.51 47.14 L258.83 47.24 L259.14 47.34 L259.46 47.45 L259.77 47.55 L260.09 47.65 L260.40 47.76 L260.71 47.86 L261.02 47.96 L261.33 48.07 L261.64 48.17 L261.95 48.28 L262.26 48.39 L262.56 48.49 L262.87 48.60 L263.17 48.71 L263.48 48.82 L263.78 48.92 L264.08 49.03 L264.38 49.14 L264.68 49.25 L264.98 49.36 L265.28 49.47 L265.58 49.59 L265.87 49.70 L266.17 49.81 L266.46 49.92 L266.76 50.04 L267.05 50.15 L267.34 50.27 L267.63 50.38 L267.92 50.50 L268.21 50.61 L268.50 50.73 L268.79 50.84 L269.08 50.96 L269.36 51.07 L269.65 51.19 L269.93 51.30 L270.21 51.42 L270.50 51.54 L270.78 51.65 L271.06 51.77 L271.34 51.89 L271.62 52.01 L271.90 52.13 L272.17 52.24 L272.45 52.36 L272.73 52.48 L273.00 52.60 L273.27 52.72 L273.55 52.84 L273.82 52.96 L274.09 53.08 L274.36 53.21 L274.63 53.33 L274.90 53.45 L275.17 53.57 L275.43 53.70 L275.70 53.82 L275.97 53.94 L276.23 54.07 L276.49 54.19 L276.76 54.32 L277.02 54.45 L277.28 54.57 L277.54 54.70 L277.80 54.83 L278.06 54.96 L278.32 55.09 L278.57 55.22 L278.83 55.35 L279.08 55.48 L279.34 55.61 L279.59 55.75 L279.85 55.88 L280.10 56.01 L280.35 56.15 L280.60 56.28 L280.85 56.42 L281.10 56.56 L281.35 56.70 L281.59 56.84 L281.84 56.98 L282.08 57.12 L282.33 57.26 L282.57 57.40 L282.82 57.54 L283.06 57.68 L283.30 57.83 L283.54 57.97 L283.78 58.11 L284.02 58.26 L284.26 58.41 L284.50 58.55 L284.73 58.70 L284.97 58.85 L285.20 58.99 L285.44 59.14 L285.67 59.29 L285.90 59.44 L286.14 59.59 L286.37 59.74 L286.60 59.89 L286.83 60.05 L287.06 60.20 L287.28 60.35 L287.51 60.50 L287.74 60.66 L287.96 60.81 L288.19 60.96 L288.41 61.12 L288.64 61.27 L288.86 61.43 L289.08 61.58 L289.30 61.74 L289.52 61.90 L289.74 62.05 L289.96 62.21 L290.18 62.37 L290.40 62.53 L290.61 62.68 L290.83 62.84 L291.04 63.00 L291.26 63.16 L291.47 63.32 L291.68 63.48 L291.89 63.63 L292.11 63.79 L292.32 63.95 L292.53 64.11 L292.73 64.27 L292.94 64.43 L293.15 64.59 L293.36 64.75 L293.56 64.91 L293.77 65.07 L293.97 65.23 L294.18 65.39 L294.38 65.55 L294.58 65.71 L294.78 65.88 L294.98 66.04 L295.18 66.20 L295.38 66.36 L295.58 66.53 L295.78 66.69 L295.98 66.85 L296.17 67.02 L296.37 67.18 L296.56 67.35 L296.76 67.51 L296.95 67.68 L297.15 67.85 L297.34 68.02 L297.53 68.18 L297.72 68.35 L297.91 68.52 L298.10 68.69 L298.29 68.86 L298.48 69.03 L298.66 69.21 L298.85 69.38 L299.03 69.55 L299.22 69.73 L299.40 69.90 L299.59 70.08 L299.77 70.25 L299.95 70.43 L300.13 70.61 L300.32 70.79 L300.50 70.97 L300.67 71.15 L300.85 71.33 L301.03 71.51 L301.21 71.69 L301.39 71.88 L301.56 72.06 L301.74 72.24 L301.91 72.43 L302.09 72.61 L302.26 72.80 L302.43 72.98 L302.60 73.17 L302.77 73.36 L302.95 73.54 L303.12 73.73 L303.28 73.92 L303.45 74.11 L303.62 74.30 L303.79 74.49 L303.95 74.68 L304.12 74.87 L304.29 75.06 L304.45 75.25 L304.61 75.44 L304.78 75.63 L304.94 75.82 L305.10 76.02 L305.26 76.21 L305.42 76.40 L305.58 76.60 L305.74 76.79 L305.90 76.99 L306.06 77.18 L306.22 77.38 L306.37 77.57 L306.53 77.77 L306.68 77.96 L306.84 78.16 L306.99 78.36 L307.15 78.56 L307.30 78.75 L307.45 78.95 L307.60 79.15 L307.90 79.55 L308.20 79.95 L308.50 80.35 L308.79 80.75 L309.08 81.15 L309.37 81.56 L309.66 81.96 L309.94 82.37 L310.22 82.77 L310.50 83.18 L310.78 83.59 L311.05 84.00 L311.32 84.42 L311.59 84.83 L311.86 85.24 L312.13 85.66 L312.39 86.08 L312.65 86.49 L312.90 86.91 L313.16 87.33 L313.41 87.75 L313.66 88.17 L313.91 88.59 L314.16 89.00 L314.40 89.42 L314.64 89.84 L314.88 90.25 L315.12 90.67 L315.35 91.08 L315.58 91.50 L315.81 91.91 L316.04 92.31 L316.27 92.72 L316.49 93.12 L316.71 93.52 L316.93 93.92 L317.15 94.32 L317.36 94.71 L317.57 95.11 L317.78 95.50 L317.99 95.90 L318.20 96.29 L318.40 96.68 L318.60 97.07 L318.80 97.47 L319.00 97.86 L319.20 98.25 L319.39 98.64 L319.58 99.04 L319.77 99.43 L319.96 99.83 L320.15 100.22 L320.33 100.62 L320.51 101.02 L320.69 101.42 L320.87 101.82 L321.05 102.22 L321.22 102.62 L321.39 103.03 L321.56 103.44 L321.73 103.84 L321.90 104.26 L322.06 104.67 L322.22 105.09 L322.38 105.52 L322.54 105.95 L322.70 106.38 L322.85 106.82 L323.01 107.26 L323.16 107.70 L323.31 108.15 L323.46 108.60 L323.60 109.05 L323.75 109.51 L323.89 109.96 L324.03 110.42 L324.17 110.88 L324.31 111.34 L324.45 111.79 L324.58 112.25 L324.71 112.71 L324.84 113.17 L324.97 113.63 L325.10 114.08 L325.22 114.54 L325.35 114.99 L325.47 115.44 L325.59 115.89 L325.71 116.34 L325.83 116.79 L325.95 117.23 L326.06 117.67 L326.17 118.11 L326.29 118.54 L326.39 118.98 L326.50 119.40 L326.61 119.83 L326.72 120.25 L326.82 120.67 L326.92 121.08 L327.02 121.50 L327.12 121.91 L327.22 122.31 L327.32 122.72 L327.41 123.12 L327.51 123.52 L327.60 123.92 L327.69 124.32 L327.78 124.72 L327.87 125.12 L327.95 125.51 L328.04 125.90 L328.12 126.30 L328.21 126.69 L328.29 127.08 L328.37 127.47 L328.45 127.85 L328.52 128.24 L328.60 128.63 L328.68 129.01 L328.75 129.40 L328.82 129.78 L328.89 130.16 L328.96 130.54 L329.03 130.92 L329.10 131.30 L329.17 131.68 L329.23 132.06 L329.29 132.43 L329.36 132.80 L329.42 133.17 L329.48 133.53 L329.54 133.90 L329.60 134.26 L329.65 134.63 L329.71 135.00 L329.77 135.36 L329.82 135.73 L329.87 136.10 L329.92 136.47 L329.98 136.84 L330.03 137.22 L330.07 137.59 L330.12 137.97 L330.17 138.35 L330.21 138.73 L330.26 139.11 L330.30 139.50 L330.35 139.88 L330.39 140.27 L330.43 140.66 L330.47 141.05 L330.51 141.44 L330.55 141.83 L330.58 142.22 L330.62 142.62 L330.65 143.01 L330.69 143.40 L330.72 143.79 L330.76 144.18 L330.79 144.57 L330.82 144.98 L330.85 145.44 L330.88 145.93 L330.91 146.46 L330.94 147.02 L330.96 147.61 L330.99 148.23 L331.02 148.88 L331.04 149.55 L331.05 149.90 L331.06 150.25 L331.08 150.60 L331.09 150.96 L331.10 151.32 L331.11 151.69 L331.12 152.06 L331.13 152.44 L331.14 152.81 L331.15 153.20 L331.17 153.58 L331.18 153.97 L331.19 154.36 L331.20 154.75 L331.21 155.16 L331.22 155.59 L331.23 156.05 L331.23 156.53 L331.24 157.03 L331.25 157.54 L331.26 158.08 L331.27 158.64 L331.28 159.21 L331.29 159.80 L331.30 160.40 L331.30 161.01 L331.31 161.64 L331.32 162.29 L331.33 162.94 L331.34 163.60 L331.34 164.28 L331.35 164.96 L331.36 165.66 L331.36 166.36 L331.37 167.07 L331.38 167.79 L331.38 168.51 L331.39 169.24 L331.40 169.98 L331.40 170.73 L331.41 171.47 L331.42 172.23 L331.42 172.98 L331.43 173.74 L331.43 174.51 L331.44 175.27 L331.44 176.04 L331.45 176.82 L331.45 177.59 L331.46 178.37 L331.46 179.14 L331.47 179.92 L331.47 180.70 L331.48 181.48 L331.48 182.26 L331.49 183.04 L331.49 183.82 L331.49 184.60 L331.50 185.37 L331.50 186.15 L331.51 186.93 L331.51 187.70 L331.51 188.47 L331.52 189.24 L331.52 190.01 L331.52 190.78 L331.53 191.54 L331.53 192.30 L331.53 193.05 L331.54 193.81 L331.54 194.56 L331.54 195.31 L331.54 196.05 L331.55 196.79 L331.55 197.53 L331.55 198.26 L331.55 198.98 L331.56 199.71 L331.56 200.42 L331.56 201.14 L331.56 201.85 L331.56 202.55 L331.57 203.25 L331.57 203.94 L331.57 204.63 L331.57 205.31 L331.57 205.98 L331.58 206.65 L331.58 207.32 L331.58 207.98 L331.58 208.63 L331.58 209.27 L331.58 209.91 L331.58 210.54 L331.58 211.17 L331.59 211.79 L331.59 212.40 L331.59 213.00 L331.59 213.60 L331.59 214.19 L331.59 214.77 L331.59 215.34 L331.59 215.90 L331.59 216.46 L331.59 217.01 L331.59 217.55 L331.59 218.08 L331.60 218.60 L331.60 219.12 L331.60 219.62 L331.60 220.12 L331.60 220.60 L331.60 221.08 L331.60 221.54 L331.60 222.00 L331.60 222.44 L331.60 222.88 L331.60 223.30 L331.60 223.71 L331.60 224.11 L331.60 224.49 L331.60 224.87 L331.60 225.23 L331.60 225.91 L331.60 226.53 L331.60 227.09 L331.60 227.57 L331.60 227.96 L331.60 228.30" fill="none" stroke="#EB6235" stroke-width="1.9" stroke-linejoin="round" stroke-linecap="square"/>
<path d="M7.20 228.30 L7.20 227.90 L7.20 227.44 L7.20 226.87 L7.20 226.21 L7.20 225.86 L7.20 225.48 L7.20 225.09 L7.20 224.68 L7.20 224.25 L7.20 223.81 L7.20 223.36 L7.20 222.89 L7.20 222.40 L7.20 221.90 L7.20 221.39 L7.20 220.87 L7.20 220.33 L7.20 219.78 L7.20 219.22 L7.20 218.65 L7.20 218.07 L7.20 217.48 L7.20 216.87 L7.21 216.25 L7.21 215.63 L7.21 214.99 L7.21 214.35 L7.21 213.69 L7.21 213.02 L7.21 212.35 L7.21 211.67 L7.21 210.97 L7.21 210.27 L7.21 209.56 L7.21 208.84 L7.22 208.12 L7.22 207.38 L7.22 206.64 L7.22 205.89 L7.22 205.13 L7.22 204.36 L7.22 203.59 L7.22 202.81 L7.23 202.02 L7.23 201.23 L7.23 200.43 L7.23 199.62 L7.23 198.81 L7.24 197.99 L7.24 197.16 L7.24 196.33 L7.24 195.50 L7.24 194.66 L7.25 193.81 L7.25 192.96 L7.25 192.10 L7.25 191.24 L7.26 190.38 L7.26 189.51 L7.26 188.64 L7.26 187.76 L7.27 186.88 L7.27 186.00 L7.27 185.11 L7.28 184.22 L7.28 183.33 L7.28 182.43 L7.29 181.54 L7.29 180.64 L7.29 179.74 L7.30 178.84 L7.30 177.94 L7.31 177.03 L7.31 176.13 L7.31 175.23 L7.32 174.32 L7.32 173.42 L7.33 172.52 L7.33 171.62 L7.34 170.72 L7.34 169.82 L7.35 168.92 L7.35 168.03 L7.36 167.14 L7.36 166.25 L7.37 165.37 L7.37 164.49 L7.38 163.62 L7.38 162.75 L7.39 161.89 L7.40 161.03 L7.40 160.18 L7.41 159.33 L7.42 158.50 L7.42 157.67 L7.43 156.85 L7.44 156.04 L7.44 155.24 L7.45 154.45 L7.46 153.67 L7.46 152.90 L7.47 152.15 L7.48 151.41 L7.49 150.68 L7.50 149.97 L7.50 149.27 L7.51 148.59 L7.52 147.93 L7.53 147.28 L7.54 146.66 L7.55 146.05 L7.56 145.47 L7.57 144.91 L7.57 144.38 L7.58 143.87 L7.59 143.38 L7.60 142.93 L7.61 142.49 L7.62 142.06 L7.63 141.63 L7.65 141.20 L7.66 140.78 L7.67 140.36 L7.68 139.94 L7.69 139.53 L7.70 139.12 L7.71 138.72 L7.72 138.33 L7.74 137.94 L7.75 137.55 L7.76 137.17 L7.77 136.80 L7.78 136.43 L7.80 136.08 L7.81 135.72 L7.82 135.38 L7.85 134.72 L7.88 134.09 L7.91 133.49 L7.94 132.94 L7.97 132.43 L8.00 131.97 L8.03 131.55 L8.06 131.13 L8.09 130.72 L8.13 130.30 L8.16 129.89 L8.20 129.47 L8.24 129.06 L8.27 128.65 L8.31 128.24 L8.35 127.83 L8.39 127.42 L8.43 127.01 L8.48 126.61 L8.52 126.20 L8.56 125.80 L8.61 125.41 L8.65 125.01 L8.70 124.62 L8.75 124.23 L8.80 123.84 L8.85 123.46 L8.90 123.08 L8.95 122.70 L9.01 122.32 L9.06 121.94 L9.12 121.57 L9.17 121.20 L9.23 120.82 L9.29 120.45 L9.35 120.08 L9.41 119.71 L9.47 119.33 L9.54 118.96 L9.60 118.58 L9.67 118.20 L9.73 117.82 L9.80 117.43 L9.87 117.05 L9.94 116.66 L10.01 116.28 L10.09 115.89 L10.16 115.51 L10.24 115.12 L10.31 114.73 L10.39 114.35 L10.47 113.96 L10.55 113.57 L10.63 113.18 L10.72 112.79 L10.80 112.40 L10.89 112.01 L10.98 111.61 L11.07 111.22 L11.16 110.83 L11.25 110.43 L11.34 110.03 L11.44 109.63 L11.53 109.24 L11.63 108.83 L11.73 108.43 L11.83 108.02 L11.93 107.62 L12.03 107.21 L12.14 106.79 L12.24 106.38 L12.35 105.96 L12.46 105.53 L12.57 105.11 L12.68 104.68 L12.80 104.25 L12.91 103.81 L13.03 103.37 L13.15 102.94 L13.27 102.49 L13.39 102.05 L13.51 101.61 L13.64 101.16 L13.76 100.72 L13.89 100.27 L14.02 99.82 L14.15 99.38 L14.29 98.93 L14.42 98.48 L14.56 98.04 L14.70 97.59 L14.84 97.15 L14.98 96.71 L15.12 96.27 L15.27 95.83 L15.42 95.40 L15.56 94.96 L15.72 94.53 L15.87 94.11 L16.02 93.69 L16.18 93.27 L16.34 92.86 L16.50 92.45 L16.66 92.05 L16.82 91.66 L16.99 91.27 L17.15 90.89 L17.32 90.50 L17.49 90.12 L17.67 89.74 L17.84 89.37 L18.02 88.99 L18.20 88.62 L18.38 88.25 L18.56 87.88 L18.75 87.51 L18.93 87.15 L19.12 86.78 L19.31 86.42 L19.51 86.06 L19.70 85.69 L19.90 85.33 L20.10 84.97 L20.30 84.61 L20.50 84.25 L20.71 83.89 L20.91 83.53 L21.12 83.17 L21.33 82.81 L21.55 82.45 L21.76 82.08 L21.98 81.72 L22.20 81.35 L22.42 80.99 L22.65 80.62 L22.87 80.25 L23.10 79.87 L23.33 79.50 L23.57 79.12 L23.80 78.74 L24.04 78.36 L24.28 77.98 L24.52 77.60 L24.77 77.22 L25.01 76.83 L25.26 76.45 L25.51 76.07 L25.77 75.69 L26.02 75.31 L26.28 74.93 L26.54 74.56 L26.81 74.18 L27.07 73.80 L27.34 73.43 L27.61 73.06 L27.88 72.69 L28.16 72.32 L28.44 71.95 L28.72 71.58 L29.00 71.22 L29.28 70.86 L29.57 70.50 L29.86 70.14 L30.15 69.78 L30.45 69.42 L30.75 69.06 L31.05 68.71 L31.35 68.36 L31.65 68.01 L31.96 67.66 L32.27 67.31 L32.58 66.96 L32.90 66.62 L33.22 66.28 L33.54 65.94 L33.86 65.60 L34.19 65.26 L34.51 64.93 L34.85 64.60 L35.18 64.27 L35.52 63.94 L35.85 63.61 L36.20 63.29 L36.54 62.96 L36.89 62.64 L37.24 62.33 L37.59 62.01 L37.95 61.70 L38.30 61.39 L38.67 61.08 L39.03 60.77 L39.40 60.47 L39.77 60.18 L40.14 59.88 L40.51 59.59 L40.89 59.30 L41.27 59.02 L41.65 58.74 L42.04 58.45 L42.43 58.18 L42.82 57.90 L43.22 57.63 L43.62 57.35 L44.02 57.08 L44.42 56.81 L44.83 56.55 L45.24 56.28 L45.65 56.01 L46.07 55.75 L46.48 55.48 L46.91 55.22 L47.33 54.96 L47.76 54.70 L48.19 54.43 L48.62 54.17 L49.06 53.92 L49.50 53.66 L49.94 53.40 L50.16 53.27 L50.39 53.15 L50.61 53.02 L50.84 52.89 L51.06 52.77 L51.29 52.64 L51.52 52.52 L51.74 52.39 L51.97 52.27 L52.20 52.15 L52.43 52.02 L52.66 51.90 L52.90 51.78 L53.13 51.66 L53.36 51.54 L53.60 51.42 L53.83 51.30 L54.07 51.18 L54.30 51.06 L54.54 50.94 L54.78 50.82 L55.02 50.70 L55.26 50.59 L55.50 50.47 L55.74 50.36 L55.98 50.24 L56.23 50.13 L56.47 50.02 L56.72 49.90 L56.96 49.79 L57.21 49.68 L57.45 49.57 L57.70 49.46 L57.95 49.35 L58.20 49.24 L58.45 49.13 L58.70 49.03 L58.95 48.92 L59.21 48.82 L59.46 48.71 L59.72 48.61 L59.97 48.50 L60.23 48.40 L60.48 48.30 L60.74 48.20 L61.00 48.10 L61.26 48.00 L61.52 47.90 L61.78 47.80 L62.04 47.70 L62.31 47.60 L62.57 47.50 L62.83 47.40 L63.10 47.31 L63.37 47.21 L63.63 47.12 L63.90 47.02 L64.17 46.93 L64.44 46.83 L64.71 46.74 L64.98 46.64 L65.25 46.55 L65.53 46.46 L65.80 46.37 L66.07 46.27 L66.35 46.18 L66.63 46.09 L66.90 46.00 L67.18 45.91 L67.46 45.82 L67.74 45.73 L68.02 45.64 L68.30 45.55 L68.59 45.46 L68.87 45.37 L69.15 45.28 L69.44 45.20 L69.72 45.11 L70.01 45.02 L70.30 44.93 L70.59 44.84 L70.88 44.76 L71.17 44.67 L71.46 44.58 L71.75 44.50 L72.04 44.41 L72.34 44.32 L72.63 44.24 L72.93 44.15 L73.22 44.07 L73.52 43.98 L73.82 43.90 L74.12 43.82 L74.42 43.73 L74.72 43.65 L75.02 43.57 L75.32 43.49 L75.63 43.41 L75.93 43.33 L76.24 43.25 L76.54 43.17 L76.85 43.09 L77.16 43.01 L77.47 42.93 L77.78 42.85 L78.09 42.78 L78.40 42.70 L78.71 42.62 L79.03 42.55 L79.34 42.47 L79.66 42.39 L79.97 42.32 L80.29 42.25 L80.61 42.17 L80.93 42.10 L81.25 42.02 L81.57 41.95 L81.89 41.88 L82.22 41.81 L82.54 41.73 L82.86 41.66 L83.19 41.59 L83.52 41.52 L83.84 41.45 L84.17 41.38 L84.50 41.31 L84.83 41.24 L85.16 41.17 L85.50 41.10 L85.83 41.03 L86.16 40.96 L86.50 40.90 L86.83 40.83 L87.17 40.76 L87.51 40.69 L87.85 40.63 L88.19 40.56 L88.53 40.50 L88.87 40.43 L89.21 40.37 L89.56 40.30 L89.90 40.24 L90.25 40.17 L90.59 40.11 L90.94 40.05 L91.29 39.99 L91.64 39.93 L91.99 39.87 L92.34 39.81 L92.69 39.75 L93.05 39.69 L93.40 39.63 L93.75 39.57 L94.11 39.51 L94.47 39.46 L94.83 39.40 L95.19 39.34 L95.55 39.29 L95.91 39.23 L96.27 39.18 L96.63 39.12 L97.00 39.07 L97.36 39.01 L97.73 38.96 L98.09 38.91 L98.46 38.85 L98.83 38.80 L99.20 38.75 L99.57 38.70 L99.94 38.65 L100.32 38.60 L100.69 38.54 L101.07 38.49 L101.44 38.44 L101.82 38.40 L102.20 38.35 L102.58 38.30 L102.96 38.25 L103.34 38.20 L103.72 38.15 L104.10 38.11 L104.49 38.06 L104.87 38.01 L105.26 37.97 L105.64 37.92 L106.03 37.87 L106.42 37.83 L106.81 37.79 L107.20 37.74 L107.59 37.70 L107.99 37.66 L108.38 37.61 L108.78 37.57 L109.17 37.53 L109.57 37.49 L109.97 37.45 L110.37 37.41 L110.77 37.37 L111.17 37.33 L111.57 37.29 L111.98 37.25 L112.38 37.22 L112.79 37.18 L113.19 37.14 L113.60 37.11 L114.01 37.07 L114.42 37.04 L114.83 37.00 L115.24 36.97 L115.65 36.93 L116.07 36.90 L116.48 36.86 L116.90 36.83 L117.32 36.80 L117.73 36.77 L118.15 36.74 L118.57 36.70 L119.00 36.67 L119.42 36.64 L119.84 36.61 L120.27 36.58 L120.69 36.55 L121.12 36.53 L121.55 36.50 L121.97 36.47 L122.40 36.44 L122.84 36.41 L123.27 36.39 L123.70 36.36 L124.13 36.33 L124.57 36.31 L125.01 36.28 L125.44 36.26 L125.88 36.23 L126.32 36.21 L126.76 36.18 L127.20 36.16 L127.65 36.14 L128.09 36.11 L128.54 36.09 L128.98 36.07 L129.43 36.05 L129.88 36.02 L130.33 36.00 L130.78 35.98 L131.23 35.96 L131.68 35.94 L132.14 35.92 L132.59 35.90 L133.05 35.88 L133.50 35.86 L133.96 35.84 L134.42 35.82 L134.88 35.81 L135.34 35.79 L135.81 35.77 L136.27 35.75 L136.73 35.73 L137.20 35.72 L137.67 35.70 L138.13 35.69 L138.60 35.67 L139.07 35.65 L139.55 35.64 L140.02 35.62 L140.49 35.61 L140.97 35.59 L141.44 35.58 L141.92 35.57 L142.40 35.55 L142.88 35.54 L143.36 35.53 L143.84 35.51 L144.32 35.50 L144.81 35.49 L145.29 35.48 L145.78 35.46 L146.27 35.45 L146.75 35.44 L147.24 35.43 L147.74 35.42 L148.23 35.41 L148.72 35.40 L149.21 35.39 L149.71 35.38 L150.21 35.37 L150.70 35.36 L151.20 35.35 L151.70 35.34 L152.20 35.33 L152.71 35.32 L153.21 35.32 L153.71 35.31 L154.22 35.30 L154.73 35.29 L155.24 35.29 L155.74 35.28 L156.26 35.27 L156.77 35.27 L157.28 35.26 L157.79 35.26 L158.31 35.25 L158.83 35.25 L159.34 35.24 L159.86 35.24 L160.38 35.23 L160.90 35.23 L161.42 35.22 L161.95 35.22 L162.47 35.22 L163.00 35.21 L163.53 35.21 L164.05 35.21 L164.58 35.20 L165.11 35.20 L165.64 35.20 L166.18 35.20 L166.71 35.20 L167.25 35.20 L167.78 35.20 L168.32 35.19 L168.86 35.19 L169.40 35.19 L169.94 35.19 L170.48 35.19 L171.02 35.20 L171.55 35.20 L172.09 35.20 L172.62 35.20 L173.16 35.20 L173.69 35.20 L174.22 35.20 L174.75 35.21 L175.27 35.21 L175.80 35.21 L176.33 35.22 L176.85 35.22 L177.38 35.22 L177.90 35.23 L178.42 35.23 L178.94 35.24 L179.46 35.24 L179.97 35.25 L180.49 35.25 L181.01 35.26 L181.52 35.26 L182.03 35.27 L182.54 35.27 L183.06 35.28 L183.56 35.29 L184.07 35.29 L184.58 35.30 L185.09 35.31 L185.59 35.32 L186.09 35.32 L186.60 35.33 L187.10 35.34 L187.60 35.35 L188.10 35.36 L188.59 35.37 L189.09 35.38 L189.59 35.39 L190.08 35.40 L190.57 35.41 L191.06 35.42 L191.56 35.43 L192.05 35.44 L192.53 35.45 L193.02 35.46 L193.51 35.48 L193.99 35.49 L194.48 35.50 L194.96 35.51 L195.44 35.53 L195.92 35.54 L196.40 35.55 L196.88 35.57 L197.36 35.58 L197.83 35.59 L198.31 35.61 L198.78 35.62 L199.25 35.64 L199.73 35.65 L200.20 35.67 L200.67 35.69 L201.13 35.70 L201.60 35.72 L202.07 35.73 L202.53 35.75 L202.99 35.77 L203.46 35.79 L203.92 35.81 L204.38 35.82 L204.84 35.84 L205.30 35.86 L205.75 35.88 L206.21 35.90 L206.66 35.92 L207.12 35.94 L207.57 35.96 L208.02 35.98 L208.47 36.00 L208.92 36.02 L209.37 36.05 L209.82 36.07 L210.26 36.09 L210.71 36.11 L211.15 36.14 L211.60 36.16 L212.04 36.18 L212.48 36.21 L212.92 36.23 L213.36 36.26 L213.79 36.28 L214.23 36.31 L214.67 36.33 L215.10 36.36 L215.53 36.39 L215.96 36.41 L216.40 36.44 L216.83 36.47 L217.25 36.50 L217.68 36.53 L218.11 36.55 L218.53 36.58 L218.96 36.61 L219.38 36.64 L219.80 36.67 L220.23 36.70 L220.65 36.74 L221.07 36.77 L221.48 36.80 L221.90 36.83 L222.32 36.86 L222.73 36.90 L223.15 36.93 L223.56 36.97 L223.97 37.00 L224.38 37.04 L224.79 37.07 L225.20 37.11 L225.61 37.14 L226.01 37.18 L226.42 37.22 L226.82 37.25 L227.23 37.29 L227.63 37.33 L228.03 37.37 L228.43 37.41 L228.83 37.45 L229.23 37.49 L229.63 37.53 L230.02 37.57 L230.42 37.61 L230.81 37.66 L231.21 37.70 L231.60 37.74 L231.99 37.79 L232.38 37.83 L232.77 37.87 L233.16 37.92 L233.54 37.97 L233.93 38.01 L234.31 38.06 L234.70 38.11 L235.08 38.15 L235.46 38.20 L235.84 38.25 L236.22 38.30 L236.60 38.35 L236.98 38.40 L237.36 38.44 L237.73 38.49 L238.11 38.54 L238.48 38.60 L238.86 38.65 L239.23 38.70 L239.60 38.75 L239.97 38.80 L240.34 38.85 L240.71 38.91 L241.07 38.96 L241.44 39.01 L241.80 39.07 L242.17 39.12 L242.53 39.18 L242.89 39.23 L243.25 39.29 L243.61 39.34 L243.97 39.40 L244.33 39.46 L244.69 39.51 L245.05 39.57 L245.40 39.63 L245.75 39.69 L246.11 39.75 L246.46 39.81 L246.81 39.87 L247.16 39.93 L247.51 39.99 L247.86 40.05 L248.21 40.11 L248.55 40.17 L248.90 40.24 L249.24 40.30 L249.59 40.37 L249.93 40.43 L250.27 40.50 L250.61 40.56 L250.95 40.63 L251.29 40.69 L251.63 40.76 L251.97 40.83 L252.30 40.90 L252.64 40.96 L252.97 41.03 L253.30 41.10 L253.64 41.17 L253.97 41.24 L254.30 41.31 L254.63 41.38 L254.96 41.45 L255.28 41.52 L255.61 41.59 L255.94 41.66 L256.26 41.73 L256.58 41.81 L256.91 41.88 L257.23 41.95 L257.55 42.02 L257.87 42.10 L258.19 42.17 L258.51 42.25 L258.83 42.32 L259.14 42.39 L259.46 42.47 L259.77 42.55 L260.09 42.62 L260.40 42.70 L260.71 42.78 L261.02 42.85 L261.33 42.93 L261.64 43.01 L261.95 43.09 L262.26 43.17 L262.56 43.25 L262.87 43.33 L263.17 43.41 L263.48 43.49 L263.78 43.57 L264.08 43.65 L264.38 43.73 L264.68 43.82 L264.98 43.90 L265.28 43.98 L265.58 44.07 L265.87 44.15 L266.17 44.24 L266.46 44.32 L266.76 44.41 L267.05 44.50 L267.34 44.58 L267.63 44.67 L267.92 44.76 L268.21 44.84 L268.50 44.93 L268.79 45.02 L269.08 45.11 L269.36 45.20 L269.65 45.28 L269.93 45.37 L270.21 45.46 L270.50 45.55 L270.78 45.64 L271.06 45.73 L271.34 45.82 L271.62 45.91 L271.90 46.00 L272.17 46.09 L272.45 46.18 L272.73 46.27 L273.00 46.37 L273.27 46.46 L273.55 46.55 L273.82 46.64 L274.09 46.74 L274.36 46.83 L274.63 46.93 L274.90 47.02 L275.17 47.12 L275.43 47.21 L275.70 47.31 L275.97 47.40 L276.23 47.50 L276.49 47.60 L276.76 47.70 L277.02 47.80 L277.28 47.90 L277.54 48.00 L277.80 48.10 L278.06 48.20 L278.32 48.30 L278.57 48.40 L278.83 48.50 L279.08 48.61 L279.34 48.71 L279.59 48.82 L279.85 48.92 L280.10 49.03 L280.35 49.13 L280.60 49.24 L280.85 49.35 L281.10 49.46 L281.35 49.57 L281.59 49.68 L281.84 49.79 L282.08 49.90 L282.33 50.02 L282.57 50.13 L282.82 50.24 L283.06 50.36 L283.30 50.47 L283.54 50.59 L283.78 50.70 L284.02 50.82 L284.26 50.94 L284.50 51.06 L284.73 51.18 L284.97 51.30 L285.20 51.42 L285.44 51.54 L285.67 51.66 L285.90 51.78 L286.14 51.90 L286.37 52.02 L286.60 52.15 L286.83 52.27 L287.06 52.39 L287.28 52.52 L287.51 52.64 L287.74 52.77 L287.96 52.89 L288.19 53.02 L288.41 53.15 L288.64 53.27 L288.86 53.40 L289.30 53.66 L289.74 53.92 L290.18 54.17 L290.61 54.43 L291.04 54.70 L291.47 54.96 L291.89 55.22 L292.32 55.48 L292.73 55.75 L293.15 56.01 L293.56 56.28 L293.97 56.55 L294.38 56.81 L294.78 57.08 L295.18 57.35 L295.58 57.63 L295.98 57.90 L296.37 58.18 L296.76 58.45 L297.15 58.74 L297.53 59.02 L297.91 59.30 L298.29 59.59 L298.66 59.88 L299.03 60.18 L299.40 60.47 L299.77 60.77 L300.13 61.08 L300.50 61.39 L300.85 61.70 L301.21 62.01 L301.56 62.33 L301.91 62.64 L302.26 62.96 L302.60 63.29 L302.95 63.61 L303.28 63.94 L303.62 64.27 L303.95 64.60 L304.29 64.93 L304.61 65.26 L304.94 65.60 L305.26 65.94 L305.58 66.28 L305.90 66.62 L306.22 66.96 L306.53 67.31 L306.84 67.66 L307.15 68.01 L307.45 68.36 L307.75 68.71 L308.05 69.06 L308.35 69.42 L308.65 69.78 L308.94 70.14 L309.23 70.50 L309.52 70.86 L309.80 71.22 L310.08 71.58 L310.36 71.95 L310.64 72.32 L310.92 72.69 L311.19 73.06 L311.46 73.43 L311.73 73.80 L311.99 74.18 L312.26 74.56 L312.52 74.93 L312.78 75.31 L313.03 75.69 L313.29 76.07 L313.54 76.45 L313.79 76.83 L314.03 77.22 L314.28 77.60 L314.52 77.98 L314.76 78.36 L315.00 78.74 L315.23 79.12 L315.47 79.50 L315.70 79.87 L315.93 80.25 L316.15 80.62 L316.38 80.99 L316.60 81.35 L316.82 81.72 L317.04 82.08 L317.25 82.45 L317.47 82.81 L317.68 83.17 L317.89 83.53 L318.09 83.89 L318.30 84.25 L318.50 84.61 L318.70 84.97 L318.90 85.33 L319.10 85.69 L319.29 86.06 L319.49 86.42 L319.68 86.78 L319.87 87.15 L320.05 87.51 L320.24 87.88 L320.42 88.25 L320.60 88.62 L320.78 88.99 L320.96 89.37 L321.13 89.74 L321.31 90.12 L321.48 90.50 L321.65 90.89 L321.81 91.27 L321.98 91.66 L322.14 92.05 L322.30 92.45 L322.46 92.86 L322.62 93.27 L322.78 93.69 L322.93 94.11 L323.08 94.53 L323.24 94.96 L323.38 95.40 L323.53 95.83 L323.68 96.27 L323.82 96.71 L323.96 97.15 L324.10 97.59 L324.24 98.04 L324.38 98.48 L324.51 98.93 L324.65 99.38 L324.78 99.82 L324.91 100.27 L325.04 100.72 L325.16 101.16 L325.29 101.61 L325.41 102.05 L325.53 102.49 L325.65 102.94 L325.77 103.37 L325.89 103.81 L326.00 104.25 L326.12 104.68 L326.23 105.11 L326.34 105.53 L326.45 105.96 L326.56 106.38 L326.66 106.79 L326.77 107.21 L326.87 107.62 L326.97 108.02 L327.07 108.43 L327.17 108.83 L327.27 109.24 L327.36 109.63 L327.46 110.03 L327.55 110.43 L327.64 110.83 L327.73 111.22 L327.82 111.61 L327.91 112.01 L328.00 112.40 L328.08 112.79 L328.17 113.18 L328.25 113.57 L328.33 113.96 L328.41 114.35 L328.49 114.73 L328.56 115.12 L328.64 115.51 L328.71 115.89 L328.79 116.28 L328.86 116.66 L328.93 117.05 L329.00 117.43 L329.07 117.82 L329.13 118.20 L329.20 118.58 L329.26 118.96 L329.33 119.33 L329.39 119.71 L329.45 120.08 L329.51 120.45 L329.57 120.82 L329.63 121.20 L329.68 121.57 L329.74 121.94 L329.79 122.32 L329.85 122.70 L329.90 123.08 L329.95 123.46 L330.00 123.84 L330.05 124.23 L330.10 124.62 L330.15 125.01 L330.19 125.41 L330.24 125.80 L330.28 126.20 L330.32 126.61 L330.37 127.01 L330.41 127.42 L330.45 127.83 L330.49 128.24 L330.53 128.65 L330.56 129.06 L330.60 129.47 L330.64 129.89 L330.67 130.30 L330.71 130.72 L330.74 131.13 L330.77 131.55 L330.80 131.97 L330.83 132.43 L330.86 132.94 L330.89 133.49 L330.92 134.09 L330.95 134.72 L330.98 135.38 L330.99 135.72 L331.00 136.08 L331.02 136.43 L331.03 136.80 L331.04 137.17 L331.05 137.55 L331.06 137.94 L331.08 138.33 L331.09 138.72 L331.10 139.12 L331.11 139.53 L331.12 139.94 L331.13 140.36 L331.14 140.78 L331.15 141.20 L331.17 141.63 L331.18 142.06 L331.19 142.49 L331.20 142.93 L331.21 143.38 L331.22 143.87 L331.23 144.38 L331.23 144.91 L331.24 145.47 L331.25 146.05 L331.26 146.66 L331.27 147.28 L331.28 147.93 L331.29 148.59 L331.30 149.27 L331.30 149.97 L331.31 150.68 L331.32 151.41 L331.33 152.15 L331.34 152.90 L331.34 153.67 L331.35 154.45 L331.36 155.24 L331.36 156.04 L331.37 156.85 L331.38 157.67 L331.38 158.50 L331.39 159.33 L331.40 160.18 L331.40 161.03 L331.41 161.89 L331.42 162.75 L331.42 163.62 L331.43 164.49 L331.43 165.37 L331.44 166.25 L331.44 167.14 L331.45 168.03 L331.45 168.92 L331.46 169.82 L331.46 170.72 L331.47 171.62 L331.47 172.52 L331.48 173.42 L331.48 174.32 L331.49 175.23 L331.49 176.13 L331.49 177.03 L331.50 177.94 L331.50 178.84 L331.51 179.74 L331.51 180.64 L331.51 181.54 L331.52 182.43 L331.52 183.33 L331.52 184.22 L331.53 185.11 L331.53 186.00 L331.53 186.88 L331.54 187.76 L331.54 188.64 L331.54 189.51 L331.54 190.38 L331.55 191.24 L331.55 192.10 L331.55 192.96 L331.55 193.81 L331.56 194.66 L331.56 195.50 L331.56 196.33 L331.56 197.16 L331.56 197.99 L331.57 198.81 L331.57 199.62 L331.57 200.43 L331.57 201.23 L331.57 202.02 L331.58 202.81 L331.58 203.59 L331.58 204.36 L331.58 205.13 L331.58 205.89 L331.58 206.64 L331.58 207.38 L331.58 208.12 L331.59 208.84 L331.59 209.56 L331.59 210.27 L331.59 210.97 L331.59 211.67 L331.59 212.35 L331.59 213.02 L331.59 213.69 L331.59 214.35 L331.59 214.99 L331.59 215.63 L331.59 216.25 L331.60 216.87 L331.60 217.48 L331.60 218.07 L331.60 218.65 L331.60 219.22 L331.60 219.78 L331.60 220.33 L331.60 220.87 L331.60 221.39 L331.60 221.90 L331.60 222.40 L331.60 222.89 L331.60 223.36 L331.60 223.81 L331.60 224.25 L331.60 224.68 L331.60 225.09 L331.60 225.48 L331.60 225.86 L331.60 226.21 L331.60 226.87 L331.60 227.44 L331.60 227.90 L331.60 228.30" fill="none" stroke="#8778B3" stroke-width="1.9" stroke-linejoin="round" stroke-linecap="square"/>
<path d="M7.20 228.30 L7.20 227.85 L7.20 227.32 L7.20 226.68 L7.20 226.32 L7.20 225.94 L7.20 225.54 L7.20 225.11 L7.20 224.67 L7.20 224.20 L7.20 223.72 L7.20 223.22 L7.20 222.71 L7.20 222.17 L7.20 221.63 L7.20 221.06 L7.20 220.48 L7.20 219.89 L7.20 219.28 L7.20 218.66 L7.20 218.03 L7.20 217.38 L7.20 216.72 L7.20 216.05 L7.20 215.37 L7.21 214.67 L7.21 213.96 L7.21 213.24 L7.21 212.51 L7.21 211.77 L7.21 211.02 L7.21 210.26 L7.21 209.48 L7.21 208.70 L7.21 207.91 L7.21 207.11 L7.21 206.29 L7.22 205.47 L7.22 204.64 L7.22 203.81 L7.22 202.96 L7.22 202.10 L7.22 201.24 L7.22 200.37 L7.22 199.49 L7.23 198.60 L7.23 197.70 L7.23 196.80 L7.23 195.89 L7.23 194.98 L7.24 194.06 L7.24 193.13 L7.24 192.19 L7.24 191.25 L7.24 190.31 L7.25 189.36 L7.25 188.40 L7.25 187.44 L7.25 186.47 L7.26 185.50 L7.26 184.53 L7.26 183.55 L7.26 182.56 L7.27 181.58 L7.27 180.59 L7.27 179.59 L7.28 178.60 L7.28 177.60 L7.28 176.60 L7.29 175.60 L7.29 174.60 L7.29 173.59 L7.30 172.59 L7.30 171.58 L7.31 170.57 L7.31 169.57 L7.31 168.56 L7.32 167.56 L7.32 166.55 L7.33 165.55 L7.33 164.55 L7.34 163.55 L7.34 162.56 L7.35 161.56 L7.35 160.58 L7.36 159.59 L7.36 158.61 L7.37 157.63 L7.37 156.66 L7.38 155.70 L7.38 154.74 L7.39 153.79 L7.40 152.85 L7.40 151.91 L7.41 150.98 L7.42 150.06 L7.42 149.16 L7.43 148.26 L7.44 147.37 L7.44 146.49 L7.45 145.63 L7.46 144.78 L7.46 143.94 L7.47 143.12 L7.48 142.31 L7.49 141.52 L7.50 140.74 L7.50 139.99 L7.51 139.25 L7.52 138.53 L7.53 137.83 L7.54 137.15 L7.55 136.50 L7.56 135.87 L7.57 135.27 L7.57 134.69 L7.58 134.14 L7.59 133.62 L7.60 133.13 L7.61 132.66 L7.62 132.19 L7.63 131.73 L7.65 131.27 L7.66 130.82 L7.67 130.37 L7.68 129.93 L7.69 129.49 L7.70 129.06 L7.71 128.63 L7.72 128.20 L7.74 127.79 L7.75 127.38 L7.76 126.98 L7.77 126.58 L7.78 126.19 L7.80 125.81 L7.81 125.44 L7.82 125.07 L7.84 124.72 L7.85 124.37 L7.86 124.03 L7.89 123.39 L7.92 122.79 L7.95 122.23 L7.98 121.72 L8.01 121.27 L8.04 120.83 L8.08 120.40 L8.11 119.97 L8.15 119.54 L8.18 119.11 L8.22 118.69 L8.25 118.26 L8.29 117.83 L8.33 117.41 L8.37 116.99 L8.41 116.57 L8.45 116.16 L8.50 115.74 L8.54 115.33 L8.59 114.92 L8.63 114.52 L8.68 114.12 L8.73 113.72 L8.77 113.33 L8.82 112.93 L8.88 112.55 L8.93 112.16 L8.98 111.78 L9.03 111.40 L9.09 111.02 L9.15 110.64 L9.20 110.27 L9.26 109.89 L9.32 109.52 L9.38 109.15 L9.44 108.77 L9.51 108.40 L9.57 108.02 L9.63 107.64 L9.70 107.26 L9.77 106.88 L9.84 106.50 L9.91 106.11 L9.98 105.73 L10.05 105.35 L10.12 104.96 L10.20 104.58 L10.28 104.20 L10.35 103.81 L10.43 103.43 L10.51 103.04 L10.59 102.66 L10.68 102.27 L10.76 101.89 L10.85 101.50 L10.93 101.12 L11.02 100.73 L11.11 100.34 L11.20 99.96 L11.29 99.57 L11.39 99.18 L11.48 98.79 L11.58 98.39 L11.68 98.00 L11.78 97.61 L11.88 97.21 L11.98 96.81 L12.08 96.41 L12.19 96.00 L12.30 95.59 L12.41 95.18 L12.51 94.77 L12.63 94.35 L12.74 93.93 L12.85 93.51 L12.97 93.09 L13.09 92.66 L13.21 92.24 L13.33 91.81 L13.45 91.38 L13.58 90.95 L13.70 90.52 L13.83 90.09 L13.96 89.66 L14.09 89.22 L14.22 88.79 L14.35 88.36 L14.49 87.93 L14.63 87.51 L14.77 87.08 L14.91 86.65 L15.05 86.23 L15.20 85.81 L15.34 85.40 L15.49 84.98 L15.64 84.57 L15.79 84.17 L15.95 83.77 L16.10 83.37 L16.26 82.98 L16.42 82.59 L16.58 82.21 L16.74 81.84 L16.90 81.47 L17.07 81.11 L17.24 80.75 L17.41 80.40 L17.58 80.04 L17.75 79.69 L17.93 79.34 L18.11 79.00 L18.29 78.65 L18.47 78.31 L18.65 77.97 L18.84 77.63 L19.03 77.29 L19.22 76.96 L19.41 76.62 L19.60 76.29 L19.80 75.96 L20.00 75.63 L20.20 75.30 L20.40 74.97 L20.60 74.64 L20.81 74.31 L21.02 73.98 L21.23 73.65 L21.44 73.32 L21.65 72.99 L21.87 72.66 L22.09 72.33 L22.31 72.00 L22.53 71.66 L22.76 71.32 L22.99 70.99 L23.22 70.65 L23.45 70.30 L23.68 69.96 L23.92 69.61 L24.16 69.27 L24.40 68.92 L24.64 68.58 L24.89 68.24 L25.14 67.89 L25.39 67.55 L25.64 67.20 L25.90 66.86 L26.15 66.52 L26.41 66.18 L26.67 65.84 L26.94 65.50 L27.21 65.17 L27.48 64.83 L27.75 64.50 L28.02 64.17 L28.30 63.84 L28.58 63.52 L28.86 63.20 L29.14 62.87 L29.43 62.55 L29.72 62.23 L30.01 61.92 L30.30 61.60 L30.60 61.29 L30.90 60.97 L31.20 60.66 L31.50 60.35 L31.81 60.05 L32.12 59.74 L32.43 59.44 L32.74 59.14 L33.06 58.84 L33.38 58.54 L33.70 58.25 L34.02 57.96 L34.35 57.66 L34.68 57.38 L35.01 57.09 L35.35 56.81 L35.68 56.52 L36.03 56.24 L36.37 55.97 L36.71 55.69 L37.06 55.42 L37.41 55.15 L37.77 54.88 L38.13 54.61 L38.48 54.35 L38.85 54.09 L39.21 53.84 L39.58 53.58 L39.95 53.33 L40.32 53.09 L40.70 52.85 L41.08 52.61 L41.46 52.37 L41.85 52.13 L42.24 51.90 L42.63 51.67 L43.02 51.44 L43.42 51.21 L43.82 50.99 L44.22 50.77 L44.62 50.54 L45.03 50.32 L45.44 50.10 L45.86 49.89 L46.27 49.67 L46.69 49.45 L47.12 49.24 L47.54 49.02 L47.97 48.81 L48.40 48.60 L48.84 48.39 L49.28 48.18 L49.72 47.97 L50.16 47.76 L50.61 47.55 L51.06 47.35 L51.52 47.15 L51.97 46.95 L52.43 46.75 L52.90 46.55 L53.36 46.36 L53.83 46.17 L54.30 45.98 L54.78 45.79 L55.26 45.60 L55.74 45.42 L56.23 45.24 L56.72 45.06 L57.21 44.89 L57.70 44.71 L58.20 44.54 L58.70 44.37 L59.21 44.21 L59.72 44.05 L60.23 43.89 L60.74 43.73 L61.26 43.57 L61.78 43.42 L62.31 43.27 L62.83 43.12 L63.37 42.97 L63.90 42.83 L64.44 42.68 L64.98 42.54 L65.53 42.40 L66.07 42.26 L66.63 42.12 L67.18 41.98 L67.74 41.85 L68.30 41.71 L68.87 41.58 L69.15 41.51 L69.44 41.44 L69.72 41.38 L70.01 41.31 L70.30 41.25 L70.59 41.18 L70.88 41.12 L71.17 41.05 L71.46 40.99 L71.75 40.92 L72.04 40.86 L72.34 40.79 L72.63 40.73 L72.93 40.67 L73.22 40.60 L73.52 40.54 L73.82 40.48 L74.12 40.42 L74.42 40.36 L74.72 40.29 L75.02 40.23 L75.32 40.17 L75.63 40.12 L75.93 40.06 L76.24 40.00 L76.54 39.94 L76.85 39.88 L77.16 39.82 L77.47 39.77 L77.78 39.71 L78.09 39.65 L78.40 39.60 L78.71 39.54 L79.03 39.49 L79.34 39.43 L79.66 39.38 L79.97 39.32 L80.29 39.27 L80.61 39.22 L80.93 39.16 L81.25 39.11 L81.57 39.06 L81.89 39.01 L82.22 38.95 L82.54 38.90 L82.86 38.85 L83.19 38.80 L83.52 38.75 L83.84 38.70 L84.17 38.65 L84.50 38.60 L84.83 38.55 L85.16 38.50 L85.50 38.45 L85.83 38.41 L86.16 38.36 L86.50 38.31 L86.83 38.26 L87.17 38.21 L87.51 38.17 L87.85 38.12 L88.19 38.07 L88.53 38.03 L88.87 37.98 L89.21 37.94 L89.56 37.89 L89.90 37.85 L90.25 37.81 L90.59 37.76 L90.94 37.72 L91.29 37.68 L91.64 37.63 L91.99 37.59 L92.34 37.55 L92.69 37.51 L93.05 37.47 L93.40 37.43 L93.75 37.39 L94.11 37.35 L94.47 37.31 L94.83 37.27 L95.19 37.24 L95.55 37.20 L95.91 37.16 L96.27 37.12 L96.63 37.09 L97.00 37.05 L97.36 37.01 L97.73 36.98 L98.09 36.94 L98.46 36.91 L98.83 36.87 L99.20 36.84 L99.57 36.80 L99.94 36.77 L100.32 36.74 L100.69 36.70 L101.07 36.67 L101.44 36.64 L101.82 36.61 L102.20 36.57 L102.58 36.54 L102.96 36.51 L103.34 36.48 L103.72 36.45 L104.10 36.42 L104.49 36.39 L104.87 36.36 L105.26 36.33 L105.64 36.30 L106.03 36.27 L106.42 36.24 L106.81 36.21 L107.20 36.18 L107.59 36.16 L107.99 36.13 L108.38 36.10 L108.78 36.07 L109.17 36.05 L109.57 36.02 L109.97 36.00 L110.37 35.97 L110.77 35.95 L111.17 35.92 L111.57 35.90 L111.98 35.88 L112.38 35.85 L112.79 35.83 L113.19 35.81 L113.60 35.78 L114.01 35.76 L114.42 35.74 L114.83 35.72 L115.24 35.70 L115.65 35.68 L116.07 35.66 L116.48 35.64 L116.90 35.62 L117.32 35.60 L117.73 35.58 L118.15 35.56 L118.57 35.54 L119.00 35.52 L119.42 35.50 L119.84 35.49 L120.27 35.47 L120.69 35.45 L121.12 35.43 L121.55 35.42 L121.97 35.40 L122.40 35.38 L122.84 35.37 L123.27 35.35 L123.70 35.34 L124.13 35.32 L124.57 35.31 L125.01 35.29 L125.44 35.28 L125.88 35.26 L126.32 35.25 L126.76 35.23 L127.20 35.22 L127.65 35.21 L128.09 35.19 L128.54 35.18 L128.98 35.17 L129.43 35.15 L129.88 35.14 L130.33 35.13 L130.78 35.12 L131.23 35.11 L131.68 35.09 L132.14 35.08 L132.59 35.07 L133.05 35.06 L133.50 35.05 L133.96 35.04 L134.42 35.03 L134.88 35.02 L135.34 35.01 L135.81 35.00 L136.27 34.99 L136.73 34.98 L137.20 34.97 L137.67 34.96 L138.13 34.95 L138.60 34.94 L139.07 34.94 L139.55 34.93 L140.02 34.92 L140.49 34.91 L140.97 34.90 L141.44 34.90 L141.92 34.89 L142.40 34.88 L142.88 34.87 L143.36 34.87 L143.84 34.86 L144.32 34.85 L144.81 34.85 L145.29 34.84 L145.78 34.83 L146.27 34.83 L146.75 34.82 L147.24 34.81 L147.74 34.81 L148.23 34.80 L148.72 34.80 L149.21 34.79 L149.71 34.79 L150.21 34.78 L150.70 34.78 L151.20 34.77 L151.70 34.77 L152.20 34.76 L152.71 34.76 L153.21 34.76 L153.71 34.75 L154.22 34.75 L154.73 34.74 L155.24 34.74 L155.74 34.74 L156.26 34.73 L156.77 34.73 L157.28 34.73 L157.79 34.72 L158.31 34.72 L158.83 34.72 L159.34 34.72 L159.86 34.71 L160.38 34.71 L160.90 34.71 L161.42 34.71 L161.95 34.70 L162.47 34.70 L163.00 34.70 L163.53 34.70 L164.05 34.70 L164.58 34.70 L165.11 34.70 L165.64 34.70 L166.18 34.69 L166.71 34.69 L167.25 34.69 L167.78 34.69 L168.32 34.69 L168.86 34.69 L169.40 34.69 L169.94 34.69 L170.48 34.69 L171.02 34.69 L171.55 34.69 L172.09 34.69 L172.62 34.69 L173.16 34.70 L173.69 34.70 L174.22 34.70 L174.75 34.70 L175.27 34.70 L175.80 34.70 L176.33 34.70 L176.85 34.70 L177.38 34.71 L177.90 34.71 L178.42 34.71 L178.94 34.71 L179.46 34.72 L179.97 34.72 L180.49 34.72 L181.01 34.72 L181.52 34.73 L182.03 34.73 L182.54 34.73 L183.06 34.74 L183.56 34.74 L184.07 34.74 L184.58 34.75 L185.09 34.75 L185.59 34.76 L186.09 34.76 L186.60 34.76 L187.10 34.77 L187.60 34.77 L188.10 34.78 L188.59 34.78 L189.09 34.79 L189.59 34.79 L190.08 34.80 L190.57 34.80 L191.06 34.81 L191.56 34.81 L192.05 34.82 L192.53 34.83 L193.02 34.83 L193.51 34.84 L193.99 34.85 L194.48 34.85 L194.96 34.86 L195.44 34.87 L195.92 34.87 L196.40 34.88 L196.88 34.89 L197.36 34.90 L197.83 34.90 L198.31 34.91 L198.78 34.92 L199.25 34.93 L199.73 34.94 L200.20 34.94 L200.67 34.95 L201.13 34.96 L201.60 34.97 L202.07 34.98 L202.53 34.99 L202.99 35.00 L203.46 35.01 L203.92 35.02 L204.38 35.03 L204.84 35.04 L205.30 35.05 L205.75 35.06 L206.21 35.07 L206.66 35.08 L207.12 35.09 L207.57 35.11 L208.02 35.12 L208.47 35.13 L208.92 35.14 L209.37 35.15 L209.82 35.17 L210.26 35.18 L210.71 35.19 L211.15 35.21 L211.60 35.22 L212.04 35.23 L212.48 35.25 L212.92 35.26 L213.36 35.28 L213.79 35.29 L214.23 35.31 L214.67 35.32 L215.10 35.34 L215.53 35.35 L215.96 35.37 L216.40 35.38 L216.83 35.40 L217.25 35.42 L217.68 35.43 L218.11 35.45 L218.53 35.47 L218.96 35.49 L219.38 35.50 L219.80 35.52 L220.23 35.54 L220.65 35.56 L221.07 35.58 L221.48 35.60 L221.90 35.62 L222.32 35.64 L222.73 35.66 L223.15 35.68 L223.56 35.70 L223.97 35.72 L224.38 35.74 L224.79 35.76 L225.20 35.78 L225.61 35.81 L226.01 35.83 L226.42 35.85 L226.82 35.88 L227.23 35.90 L227.63 35.92 L228.03 35.95 L228.43 35.97 L228.83 36.00 L229.23 36.02 L229.63 36.05 L230.02 36.07 L230.42 36.10 L230.81 36.13 L231.21 36.16 L231.60 36.18 L231.99 36.21 L232.38 36.24 L232.77 36.27 L233.16 36.30 L233.54 36.33 L233.93 36.36 L234.31 36.39 L234.70 36.42 L235.08 36.45 L235.46 36.48 L235.84 36.51 L236.22 36.54 L236.60 36.57 L236.98 36.61 L237.36 36.64 L237.73 36.67 L238.11 36.70 L238.48 36.74 L238.86 36.77 L239.23 36.80 L239.60 36.84 L239.97 36.87 L240.34 36.91 L240.71 36.94 L241.07 36.98 L241.44 37.01 L241.80 37.05 L242.17 37.09 L242.53 37.12 L242.89 37.16 L243.25 37.20 L243.61 37.24 L243.97 37.27 L244.33 37.31 L244.69 37.35 L245.05 37.39 L245.40 37.43 L245.75 37.47 L246.11 37.51 L246.46 37.55 L246.81 37.59 L247.16 37.63 L247.51 37.68 L247.86 37.72 L248.21 37.76 L248.55 37.81 L248.90 37.85 L249.24 37.89 L249.59 37.94 L249.93 37.98 L250.27 38.03 L250.61 38.07 L250.95 38.12 L251.29 38.17 L251.63 38.21 L251.97 38.26 L252.30 38.31 L252.64 38.36 L252.97 38.41 L253.30 38.45 L253.64 38.50 L253.97 38.55 L254.30 38.60 L254.63 38.65 L254.96 38.70 L255.28 38.75 L255.61 38.80 L255.94 38.85 L256.26 38.90 L256.58 38.95 L256.91 39.01 L257.23 39.06 L257.55 39.11 L257.87 39.16 L258.19 39.22 L258.51 39.27 L258.83 39.32 L259.14 39.38 L259.46 39.43 L259.77 39.49 L260.09 39.54 L260.40 39.60 L260.71 39.65 L261.02 39.71 L261.33 39.77 L261.64 39.82 L261.95 39.88 L262.26 39.94 L262.56 40.00 L262.87 40.06 L263.17 40.12 L263.48 40.17 L263.78 40.23 L264.08 40.29 L264.38 40.36 L264.68 40.42 L264.98 40.48 L265.28 40.54 L265.58 40.60 L265.87 40.67 L266.17 40.73 L266.46 40.79 L266.76 40.86 L267.05 40.92 L267.34 40.99 L267.63 41.05 L267.92 41.12 L268.21 41.18 L268.50 41.25 L268.79 41.31 L269.08 41.38 L269.36 41.44 L269.65 41.51 L269.93 41.58 L270.21 41.64 L270.78 41.78 L271.34 41.91 L271.90 42.05 L272.45 42.19 L273.00 42.33 L273.55 42.47 L274.09 42.61 L274.63 42.75 L275.17 42.90 L275.70 43.04 L276.23 43.19 L276.76 43.34 L277.28 43.50 L277.80 43.65 L278.32 43.81 L278.83 43.97 L279.34 44.13 L279.85 44.29 L280.35 44.46 L280.85 44.63 L281.35 44.80 L281.84 44.97 L282.33 45.15 L282.82 45.33 L283.30 45.51 L283.78 45.70 L284.26 45.88 L284.73 46.07 L285.20 46.26 L285.67 46.46 L286.14 46.65 L286.60 46.85 L287.06 47.05 L287.51 47.25 L287.96 47.45 L288.41 47.66 L288.86 47.86 L289.30 48.07 L289.74 48.28 L290.18 48.49 L290.61 48.70 L291.04 48.92 L291.47 49.13 L291.89 49.35 L292.32 49.56 L292.73 49.78 L293.15 50.00 L293.56 50.21 L293.97 50.43 L294.38 50.65 L294.78 50.88 L295.18 51.10 L295.58 51.33 L295.98 51.55 L296.37 51.78 L296.76 52.02 L297.15 52.25 L297.53 52.49 L297.91 52.73 L298.29 52.97 L298.66 53.21 L299.03 53.46 L299.40 53.71 L299.77 53.96 L300.13 54.22 L300.50 54.48 L300.85 54.75 L301.21 55.01 L301.56 55.28 L301.91 55.55 L302.26 55.83 L302.60 56.10 L302.95 56.38 L303.28 56.66 L303.62 56.95 L303.95 57.23 L304.29 57.52 L304.61 57.81 L304.94 58.10 L305.26 58.40 L305.58 58.69 L305.90 58.99 L306.22 59.29 L306.53 59.59 L306.84 59.89 L307.15 60.20 L307.45 60.51 L307.75 60.82 L308.05 61.13 L308.35 61.44 L308.65 61.76 L308.94 62.07 L309.23 62.39 L309.52 62.71 L309.80 63.03 L310.08 63.36 L310.36 63.68 L310.64 64.01 L310.92 64.34 L311.19 64.67 L311.46 65.00 L311.73 65.34 L311.99 65.67 L312.26 66.01 L312.52 66.35 L312.78 66.69 L313.03 67.03 L313.29 67.38 L313.54 67.72 L313.79 68.06 L314.03 68.41 L314.28 68.75 L314.52 69.10 L314.76 69.44 L315.00 69.79 L315.23 70.13 L315.47 70.47 L315.70 70.82 L315.93 71.16 L316.15 71.49 L316.38 71.83 L316.60 72.16 L316.82 72.50 L317.04 72.83 L317.25 73.16 L317.47 73.49 L317.68 73.82 L317.89 74.15 L318.09 74.47 L318.30 74.80 L318.50 75.13 L318.70 75.46 L318.90 75.79 L319.10 76.12 L319.29 76.46 L319.49 76.79 L319.68 77.13 L319.87 77.46 L320.05 77.80 L320.24 78.14 L320.42 78.48 L320.60 78.82 L320.78 79.17 L320.96 79.52 L321.13 79.87 L321.31 80.22 L321.48 80.57 L321.65 80.93 L321.81 81.29 L321.98 81.65 L322.14 82.02 L322.30 82.40 L322.46 82.78 L322.62 83.17 L322.78 83.57 L322.93 83.97 L323.08 84.37 L323.24 84.78 L323.38 85.19 L323.53 85.60 L323.68 86.02 L323.82 86.44 L323.96 86.87 L324.10 87.29 L324.24 87.72 L324.38 88.15 L324.51 88.58 L324.65 89.01 L324.78 89.44 L324.91 89.87 L325.04 90.30 L325.16 90.73 L325.29 91.16 L325.41 91.59 L325.53 92.02 L325.65 92.45 L325.77 92.88 L325.89 93.30 L326.00 93.72 L326.12 94.14 L326.23 94.56 L326.34 94.98 L326.45 95.39 L326.56 95.80 L326.66 96.21 L326.77 96.61 L326.87 97.01 L326.97 97.41 L327.07 97.80 L327.17 98.20 L327.27 98.59 L327.36 98.98 L327.46 99.37 L327.55 99.76 L327.64 100.15 L327.73 100.54 L327.82 100.92 L327.91 101.31 L328.00 101.70 L328.08 102.08 L328.17 102.47 L328.25 102.85 L328.33 103.23 L328.41 103.62 L328.49 104.00 L328.56 104.39 L328.64 104.77 L328.71 105.15 L328.79 105.54 L328.86 105.92 L328.93 106.30 L329.00 106.69 L329.07 107.07 L329.13 107.45 L329.20 107.83 L329.26 108.21 L329.33 108.59 L329.39 108.96 L329.45 109.33 L329.51 109.71 L329.57 110.08 L329.63 110.45 L329.68 110.83 L329.74 111.21 L329.79 111.59 L329.85 111.97 L329.90 112.35 L329.95 112.74 L330.00 113.13 L330.05 113.52 L330.10 113.92 L330.15 114.32 L330.19 114.72 L330.24 115.13 L330.28 115.54 L330.32 115.95 L330.37 116.36 L330.41 116.78 L330.45 117.20 L330.49 117.62 L330.53 118.05 L330.56 118.47 L330.60 118.90 L330.64 119.33 L330.67 119.76 L330.71 120.19 L330.74 120.62 L330.77 121.05 L330.80 121.49 L330.83 121.97 L330.86 122.50 L330.89 123.08 L330.92 123.71 L330.95 124.37 L330.96 124.72 L330.98 125.07 L330.99 125.44 L331.00 125.81 L331.02 126.19 L331.03 126.58 L331.04 126.98 L331.05 127.38 L331.06 127.79 L331.08 128.20 L331.09 128.63 L331.10 129.06 L331.11 129.49 L331.12 129.93 L331.13 130.37 L331.14 130.82 L331.15 131.27 L331.17 131.73 L331.18 132.19 L331.19 132.66 L331.20 133.13 L331.21 133.62 L331.22 134.14 L331.23 134.69 L331.23 135.27 L331.24 135.87 L331.25 136.50 L331.26 137.15 L331.27 137.83 L331.28 138.53 L331.29 139.25 L331.30 139.99 L331.30 140.74 L331.31 141.52 L331.32 142.31 L331.33 143.12 L331.34 143.94 L331.34 144.78 L331.35 145.63 L331.36 146.49 L331.36 147.37 L331.37 148.26 L331.38 149.16 L331.38 150.06 L331.39 150.98 L331.40 151.91 L331.40 152.85 L331.41 153.79 L331.42 154.74 L331.42 155.70 L331.43 156.66 L331.43 157.63 L331.44 158.61 L331.44 159.59 L331.45 160.58 L331.45 161.56 L331.46 162.56 L331.46 163.55 L331.47 164.55 L331.47 165.55 L331.48 166.55 L331.48 167.56 L331.49 168.56 L331.49 169.57 L331.49 170.57 L331.50 171.58 L331.50 172.59 L331.51 173.59 L331.51 174.60 L331.51 175.60 L331.52 176.60 L331.52 177.60 L331.52 178.60 L331.53 179.59 L331.53 180.59 L331.53 181.58 L331.54 182.56 L331.54 183.55 L331.54 184.53 L331.54 185.50 L331.55 186.47 L331.55 187.44 L331.55 188.40 L331.55 189.36 L331.56 190.31 L331.56 191.25 L331.56 192.19 L331.56 193.13 L331.56 194.06 L331.57 194.98 L331.57 195.89 L331.57 196.80 L331.57 197.70 L331.57 198.60 L331.58 199.49 L331.58 200.37 L331.58 201.24 L331.58 202.10 L331.58 202.96 L331.58 203.81 L331.58 204.64 L331.58 205.47 L331.59 206.29 L331.59 207.11 L331.59 207.91 L331.59 208.70 L331.59 209.48 L331.59 210.26 L331.59 211.02 L331.59 211.77 L331.59 212.51 L331.59 213.24 L331.59 213.96 L331.59 214.67 L331.60 215.37 L331.60 216.05 L331.60 216.72 L331.60 217.38 L331.60 218.03 L331.60 218.66 L331.60 219.28 L331.60 219.89 L331.60 220.48 L331.60 221.06 L331.60 221.63 L331.60 222.17 L331.60 222.71 L331.60 223.22 L331.60 223.72 L331.60 224.20 L331.60 224.67 L331.60 225.11 L331.60 225.54 L331.60 225.94 L331.60 226.32 L331.60 226.68 L331.60 227.32 L331.60 227.85 L331.60 228.21 L331.60 228.30" fill="none" stroke="#C56E1A" stroke-width="1.9" stroke-linejoin="round" stroke-linecap="square"/>
</g>
<g stroke="#555" stroke-width="1" fill="none">
<line x1="0" y1="228.5" x2="338.3" y2="228.5"/>
<line x1="169.35" y1="24.1" x2="169.35" y2="228.30"/>
<line x1="7.20" y1="228.30" x2="7.20" y2="224.70"/>
<line x1="88.30" y1="228.30" x2="88.30" y2="224.70"/>
<line x1="250.50" y1="228.30" x2="250.50" y2="224.70"/>
<line x1="331.60" y1="228.30" x2="331.60" y2="224.70"/>
<line x1="169.35" y1="180.30" x2="173.35" y2="180.30"/>
<line x1="169.35" y1="131.40" x2="173.35" y2="131.40"/>
<line x1="169.35" y1="82.60" x2="173.35" y2="82.60"/>
<line x1="169.35" y1="34.50" x2="173.35" y2="34.50"/>
</g>
<g stroke="#000" stroke-width="0.7">
<line x1="160.9" y1="81.1" x2="165.8" y2="81.1"/>
<line x1="160.9" y1="129.6" x2="165.8" y2="129.6"/>
<line x1="160.9" y1="178.45" x2="165.8" y2="178.45"/>
</g>
<g>
<text x="1.40" y="241.20" transform="rotate(0.03 1.40 241.20)" class="t">−</text>
<path d="M763 0H583V1147C540 1106 483 1065 413 1024C343 983 280 952 224 932V1106C324 1153 412 1210 487 1277C562 1344 615 1409 646 1472H763Z" fill="#000" stroke="#000" stroke-width="21.3" transform="translate(7.01 240.40) scale(0.00469 -0.00469)"/>
<text x="79.30" y="241.00" transform="rotate(0.03 79.30 241.00)" class="t" style="font-size:9.1px">−</text>
<text x="84.61" y="240.40" transform="rotate(0.03 84.61 240.40)" class="t" style="font-size:9.1px">0.5</text>
<text x="243.80" y="240.40" transform="rotate(0.03 243.80 240.40)" class="t">0.5</text>
<path d="M763 0H583V1147C540 1106 483 1065 413 1024C343 983 280 952 224 932V1106C324 1153 412 1210 487 1277C562 1344 615 1409 646 1472H763Z" fill="#000" stroke="#000" stroke-width="21.3" transform="translate(328.60 240.40) scale(0.00469 -0.00469)"/>
<path d="M763 0H583V1147C540 1106 483 1065 413 1024C343 983 280 952 224 932V1106C324 1153 412 1210 487 1277C562 1344 615 1409 646 1472H763Z" fill="#000" stroke="#000" stroke-width="23.0" transform="translate(160.90 37.30) scale(0.00435 -0.00435)"/>
<text x="163.30" y="79.70" transform="rotate(0.03 163.30 79.70)" class="f" text-anchor="middle">3</text>
<text x="163.30" y="89.60" transform="rotate(0.03 163.30 89.60)" class="f" text-anchor="middle">4</text>
<path d="M763 0H583V1147C540 1106 483 1065 413 1024C343 983 280 952 224 932V1106C324 1153 412 1210 487 1277C562 1344 615 1409 646 1472H763Z" fill="#000" stroke="#000" stroke-width="15.8" transform="translate(161.49 128.20) scale(0.00317 -0.00317)"/>
<text x="163.30" y="138.20" transform="rotate(0.03 163.30 138.20)" class="f" text-anchor="middle">2</text>
<path d="M763 0H583V1147C540 1106 483 1065 413 1024C343 983 280 952 224 932V1106C324 1153 412 1210 487 1277C562 1344 615 1409 646 1472H763Z" fill="#000" stroke="#000" stroke-width="15.8" transform="translate(161.49 177.20) scale(0.00317 -0.00317)"/>
<text x="163.30" y="187.50" transform="rotate(0.03 163.30 187.50)" class="f" text-anchor="middle">4</text>
<text x="131.30" y="14.80" transform="rotate(0.03 131.30 14.80)" class="l" font-style="italic">z</text>
<text x="138.80" y="8.80" transform="rotate(0.03 138.80 8.80)" class="s">(0)</text>
<text x="151.30" y="14.80" transform="rotate(0.03 151.30 14.80)" class="l">(x</text>
<text transform="translate(163.30 14.80) rotate(0.03) scale(1.25 1.04)" class="l">/</text>
<text x="167.60" y="14.80" transform="rotate(0.03 167.60 14.80)" class="l">L</text>
<text x="174.70" y="14.80" transform="rotate(0.03 174.70 14.80)" class="l">)</text>
<text transform="translate(184.90 14.80) rotate(0.03) scale(1.25 1.04)" class="l">/</text>
<text x="193.40" y="14.80" transform="rotate(0.03 193.40 14.80)" class="l" font-style="italic">b</text>
<text x="200.50" y="17.70" transform="rotate(0.03 200.50 17.70)" class="s">0</text>
<text x="346.40" y="233.70" transform="rotate(0.03 346.40 233.70)" class="l">x</text>
<text transform="translate(357.70 233.70) rotate(0.03) scale(1.12 1.03)" class="l">/</text>
<text x="365.90" y="233.70" transform="rotate(0.03 365.90 233.70)" class="l">L</text>
</g>
</svg>
</body></html>
